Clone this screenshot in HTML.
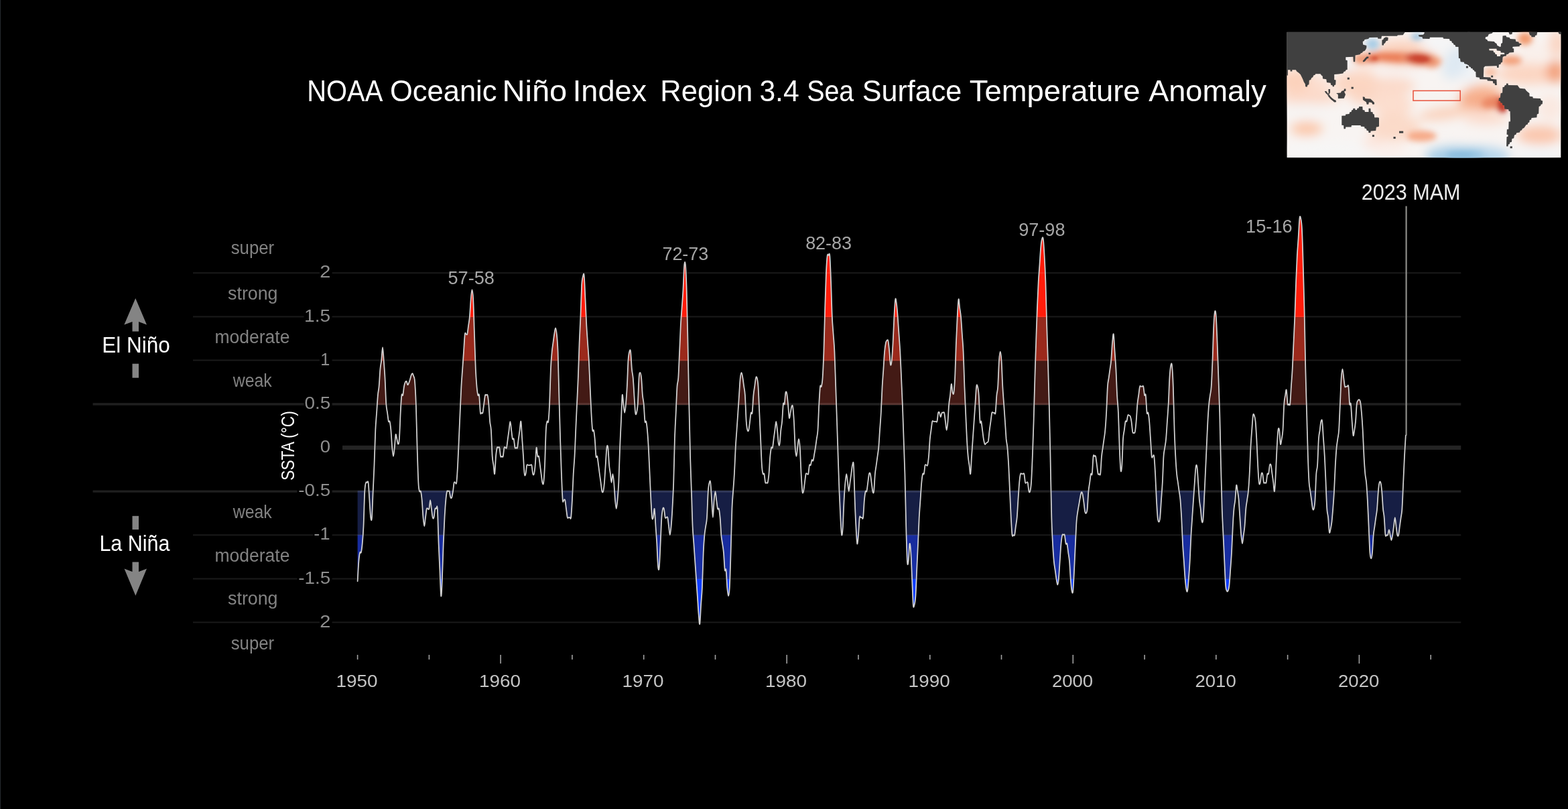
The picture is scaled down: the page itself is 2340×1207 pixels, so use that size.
<!DOCTYPE html>
<html lang="en"><head><meta charset="utf-8"><title>NOAA Oceanic Niño Index</title>
<style>html,body{margin:0;padding:0;background:#000}body{width:2340px;height:1207px}svg{display:block}text{font-family:"Liberation Sans",sans-serif}</style></head><body>
<svg width="2340" height="1207" viewBox="0 0 2340 1207">
<rect width="2340" height="1207" fill="#000"/>
<rect x="0" y="0" width="1.2" height="1207" fill="#22262a"/>
<g font-size="45" fill="#fff">
<text x="458.23" y="151.3" textLength="113.05" lengthAdjust="spacingAndGlyphs">NOAA</text>
<text x="581.94" y="151.3" textLength="159.61" lengthAdjust="spacingAndGlyphs">Oceanic</text>
<text x="749.54" y="151.3" textLength="96.73" lengthAdjust="spacingAndGlyphs">Niño</text>
<text x="854.85" y="151.3" textLength="110.14" lengthAdjust="spacingAndGlyphs">Index</text>
<text x="985.33" y="151.3" textLength="137.90" lengthAdjust="spacingAndGlyphs">Region</text>
<text x="1133.38" y="151.3" textLength="59.27" lengthAdjust="spacingAndGlyphs">3.4</text>
<text x="1204.21" y="151.3" textLength="69.99" lengthAdjust="spacingAndGlyphs">Sea</text>
<text x="1286.85" y="151.3" textLength="148.37" lengthAdjust="spacingAndGlyphs">Surface</text>
<text x="1446.88" y="151.3" textLength="254.74" lengthAdjust="spacingAndGlyphs">Temperature</text>
<text x="1714.21" y="151.3" textLength="175.48" lengthAdjust="spacingAndGlyphs">Anomaly</text>
</g>
<text x="477.34" y="414.4" font-size="25.3" fill="#8e8e8e" textLength="16.11" lengthAdjust="spacingAndGlyphs">2</text>
<text x="454.06" y="479.5" font-size="25.3" fill="#8e8e8e" textLength="39.13" lengthAdjust="spacingAndGlyphs">1.5</text>
<text x="478.37" y="544.7" font-size="25.3" fill="#8e8e8e" textLength="14.06" lengthAdjust="spacingAndGlyphs">1</text>
<text x="454.41" y="609.9" font-size="25.3" fill="#8e8e8e" textLength="38.76" lengthAdjust="spacingAndGlyphs">0.5</text>
<text x="477.72" y="675" font-size="25.3" fill="#8e8e8e" textLength="15.36" lengthAdjust="spacingAndGlyphs">0</text>
<text x="445.26" y="740.1" font-size="25.3" fill="#8e8e8e" textLength="47.90" lengthAdjust="spacingAndGlyphs">-0.5</text>
<text x="468.39" y="805.3" font-size="25.3" fill="#8e8e8e" textLength="24.13" lengthAdjust="spacingAndGlyphs">-1</text>
<text x="445.26" y="870.5" font-size="25.3" fill="#8e8e8e" textLength="47.90" lengthAdjust="spacingAndGlyphs">-1.5</text>
<text x="477.34" y="935.6" font-size="25.3" fill="#8e8e8e" textLength="16.11" lengthAdjust="spacingAndGlyphs">2</text>
<text transform="translate(438.8,715.8) rotate(-90)" x="-1.04" y="0" font-size="27.4" fill="#fff" textLength="103.75" lengthAdjust="spacingAndGlyphs">SSTA (°C)</text>
<text x="344.68" y="379" font-size="27" fill="#828282" textLength="64.55" lengthAdjust="spacingAndGlyphs">super</text>
<text x="340.05" y="447" font-size="27" fill="#828282" textLength="74.47" lengthAdjust="spacingAndGlyphs">strong</text>
<text x="320.54" y="512" font-size="27" fill="#828282" textLength="111.83" lengthAdjust="spacingAndGlyphs">moderate</text>
<text x="347.84" y="577.2" font-size="27" fill="#828282" textLength="57.93" lengthAdjust="spacingAndGlyphs">weak</text>
<text x="347.84" y="772.6" font-size="27" fill="#828282" textLength="57.93" lengthAdjust="spacingAndGlyphs">weak</text>
<text x="320.54" y="837.8" font-size="27" fill="#828282" textLength="111.83" lengthAdjust="spacingAndGlyphs">moderate</text>
<text x="340.05" y="902.4" font-size="27" fill="#828282" textLength="74.47" lengthAdjust="spacingAndGlyphs">strong</text>
<text x="344.68" y="968.9" font-size="27" fill="#828282" textLength="64.55" lengthAdjust="spacingAndGlyphs">super</text>
<text x="152.32" y="526.2" font-size="32.4" fill="#fff" textLength="101.51" lengthAdjust="spacingAndGlyphs">El Niño</text>
<text x="148.40" y="821.8" font-size="32.4" fill="#fff" textLength="105.00" lengthAdjust="spacingAndGlyphs">La Niña</text>
<path d="M202.2,445 L219,484.5 L207,480 L207,494.5 L197.5,494.5 L197.5,480 L185.3,484.5 Z" fill="#848484"/>
<rect x="197.5" y="542.7" width="9.5" height="21" fill="#848484"/>
<rect x="197.5" y="769.8" width="9.5" height="20.3" fill="#848484"/>
<path d="M202.3,888.8 L219,848.5 L207,853 L207,838.5 L197.5,838.5 L197.5,853 L185.5,848.5 Z" fill="#848484"/>
<defs><linearGradient id="gr" x1="0" y1="0" x2="0" y2="1"><stop offset="0" stop-color="#942a1d"/><stop offset="1" stop-color="#9c291b"/></linearGradient><linearGradient id="gb" x1="0" y1="0" x2="0" y2="1"><stop offset="0" stop-color="#172b9c"/><stop offset="1" stop-color="#1930a6"/></linearGradient></defs>
<defs><clipPath id="hi"><path d="M533.6,867.3C533.9,862.3 534.8,844.5 535.4,837.3C536,830.1 536.6,826.4 537.2,824.3C537.8,822.1 538.3,826.4 538.9,824.3C539.5,822.1 540.1,817.7 540.7,811.2C541.3,804.7 541.9,798.2 542.5,785.2C543.1,772.1 543.7,743.9 544.3,733C544.9,722.2 545.5,722.2 546.1,720C546.6,717.8 547.2,720 547.8,720C548.4,720 549,715.7 549.6,720C550.2,724.4 550.8,737.4 551.4,746.1C552,754.8 552.6,767.8 553.2,772.1C553.8,776.5 554.4,778.7 555,772.1C555.5,765.6 556.1,746.1 556.7,733C557.3,720 557.9,709.2 558.5,694C559.1,678.8 559.7,654.9 560.3,641.8C560.9,628.8 561.5,624.5 562.1,615.8C562.7,607.1 563.3,596.2 563.9,589.7C564.4,583.2 565,583.2 565.6,576.7C566.2,570.2 566.8,557.1 567.4,550.6C568,544.1 568.6,543 569.2,537.6C569.8,532.2 570.4,518.1 571,518.1C571.6,518.1 572.2,530 572.7,537.6C573.3,545.2 573.9,552.8 574.5,563.7C575.1,574.5 575.7,594.1 576.3,602.8C576.9,611.4 577.5,611.4 578.1,615.8C578.7,620.1 579.3,626.6 579.9,628.8C580.5,631 581.1,626.6 581.6,628.8C582.2,631 582.8,635.3 583.4,641.8C584,648.4 584.6,661.4 585.2,667.9C585.8,674.4 586.4,680.9 587,680.9C587.6,680.9 588.2,673.3 588.8,667.9C589.4,662.5 590,650.5 590.5,648.4C591.1,646.2 591.7,652.5 592.3,654.9C592.9,657.3 593.5,662.7 594.1,662.7C594.7,662.7 595.3,662.7 595.9,654.9C596.5,647.1 597.1,626.6 597.7,615.8C598.3,604.9 598.8,594.1 599.4,589.7C600,585.4 600.6,591.9 601.2,589.7C601.8,587.5 602.4,579.9 603,576.7C603.6,573.4 604.2,571.5 604.8,570.2C605.4,568.9 606,568.2 606.6,568.9C607.2,569.5 607.7,573.6 608.3,574.1C608.9,574.5 609.5,572.8 610.1,571.5C610.7,570.2 611.3,568.2 611.9,566.3C612.5,564.3 613.1,561.3 613.7,559.8C614.3,558.2 614.9,556.9 615.5,557.1C616.1,557.4 616.6,559.1 617.2,561.1C617.8,563 618.4,561.9 619,568.9C619.6,575.8 620.2,586.2 620.8,602.8C621.4,619.3 622,648.4 622.6,667.9C623.2,687.4 623.8,709.2 624.4,720C624.9,730.9 625.5,730.9 626.1,733C626.7,735.2 627.3,730.9 627.9,733C628.5,735.2 629.1,739.6 629.7,746.1C630.3,752.6 630.9,765.6 631.5,772.1C632.1,778.7 632.7,785.2 633.3,785.2C633.8,785.2 634.4,776.5 635,772.1C635.6,767.8 636.2,761.3 636.8,759.1C637.4,756.9 638,759.1 638.6,759.1C639.2,759.1 639.8,761.3 640.4,759.1C641,756.9 641.6,746.1 642.1,746.1C642.7,746.1 643.3,754.8 643.9,759.1C644.5,763.5 645.1,770 645.7,772.1C646.3,774.3 646.9,774.3 647.5,772.1C648.1,770 648.7,761.3 649.3,759.1C649.9,756.9 650.5,759.1 651,759.1C651.6,759.1 652.2,750.4 652.8,759.1C653.4,767.8 654,796 654.6,811.2C655.2,826.4 655.8,837.3 656.4,850.3C657,863.3 657.6,887.2 658.2,889.4C658.8,891.6 659.4,876.4 659.9,863.4C660.5,850.3 661.1,826.4 661.7,811.2C662.3,796 662.9,783 663.5,772.1C664.1,761.3 664.7,752.6 665.3,746.1C665.9,739.6 666.5,735.2 667.1,733C667.7,730.9 668.2,733 668.8,733C669.4,733 670,731.5 670.6,733C671.2,734.6 671.8,740.7 672.4,742.2C673,743.7 673.6,743.7 674.2,742.2C674.8,740.7 675.4,736.7 676,733C676.6,729.4 677.1,722.2 677.7,720C678.3,717.8 678.9,720 679.5,720C680.1,720 680.7,724.4 681.3,720C681.9,715.7 682.5,704.8 683.1,694C683.7,683.1 684.3,667.9 684.9,654.9C685.5,641.8 686,628.8 686.6,615.8C687.2,602.8 687.8,587.5 688.4,576.7C689,565.8 689.6,559.3 690.2,550.6C690.8,541.9 691.4,533.3 692,524.6C692.6,515.9 693.2,502.9 693.8,498.5C694.3,494.2 694.9,498.5 695.5,498.5C696.1,498.5 696.7,500.7 697.3,498.5C697.9,496.3 698.5,489.8 699.1,485.5C699.7,481.1 700.3,479 700.9,472.4C701.5,465.9 702.1,453.1 702.7,446.4C703.2,439.7 703.8,432.1 704.4,432.1C705,432.1 705.6,435.3 706.2,446.4C706.8,457.5 707.4,481.1 708,498.5C708.6,515.9 709.2,537.6 709.8,550.6C710.4,563.7 711,570.2 711.5,576.7C712.1,583.2 712.7,587.5 713.3,589.7C713.9,591.9 714.5,585.4 715.1,589.7C715.7,594.1 716.3,611.4 716.9,615.8C717.5,620.1 718.1,615.8 718.7,615.8C719.3,615.8 719.9,618 720.4,615.8C721,613.6 721.6,607.1 722.2,602.8C722.8,598.4 723.4,591.9 724,589.7C724.6,587.5 725.2,589.7 725.8,589.7C726.4,589.7 727,587.5 727.6,589.7C728.2,591.9 728.8,596.2 729.3,602.8C729.9,609.3 730.5,622.3 731.1,628.8C731.7,635.3 732.3,633.2 732.9,641.8C733.5,650.5 734.1,672.2 734.7,680.9C735.3,689.6 735.9,689.6 736.5,694C737.1,698.3 737.6,709.2 738.2,707C738.8,704.8 739.4,687.4 740,680.9C740.6,674.4 741.2,670.1 741.8,667.9C742.4,665.7 743,667.9 743.6,667.9C744.2,667.9 744.8,665.7 745.4,667.9C746,670.1 746.5,678.8 747.1,680.9C747.7,683.1 748.3,680.9 748.9,680.9C749.5,680.9 750.1,683.1 750.7,680.9C751.3,678.8 751.9,670.1 752.5,667.9C753.1,665.7 753.7,667.9 754.3,667.9C754.9,667.9 755.4,670.1 756,667.9C756.6,665.7 757.2,659.2 757.8,654.9C758.4,650.5 759,646.2 759.6,641.8C760.2,637.5 760.8,628.8 761.4,628.8C762,628.8 762.6,637.5 763.2,641.8C763.7,646.2 764.3,652.7 764.9,654.9C765.5,657 766.1,652.7 766.7,654.9C767.3,657 767.9,665.7 768.5,667.9C769.1,670.1 769.7,667.9 770.3,667.9C770.9,667.9 771.5,670.1 772.1,667.9C772.6,665.7 773.2,659.2 773.8,654.9C774.4,650.5 775,646.2 775.6,641.8C776.2,637.5 776.8,626.6 777.4,628.8C778,631 778.6,646.2 779.2,654.9C779.8,663.6 780.4,672.2 781,680.9C781.5,689.6 782.1,702.6 782.7,707C783.3,711.3 783.9,709.2 784.5,707C785.1,704.8 785.7,696.1 786.3,694C786.9,691.8 787.5,694 788.1,694C788.7,694 789.3,694 789.8,694C790.4,694 791,694 791.6,694C792.2,694 792.8,691.8 793.4,694C794,696.1 794.6,704.8 795.2,707C795.8,709.2 796.4,709.2 797,707C797.6,704.8 798.2,700.5 798.7,694C799.3,687.4 799.9,670.1 800.5,667.9C801.1,665.7 801.7,678.8 802.3,680.9C802.9,683.1 803.5,678.8 804.1,680.9C804.7,683.1 805.3,689.6 805.9,694C806.5,698.3 807,702.6 807.6,707C808.2,711.3 808.8,717.8 809.4,720C810,722.2 810.6,724.4 811.2,720C811.8,715.7 812.4,707 813,694C813.6,680.9 814.2,652.7 814.8,641.8C815.4,631 815.9,631 816.5,628.8C817.1,626.6 817.7,633.2 818.3,628.8C818.9,624.5 819.5,615.8 820.1,602.8C820.7,589.7 821.3,563.7 821.9,550.6C822.5,537.6 823.1,531.1 823.7,524.6C824.3,518.1 824.8,515.9 825.4,511.5C826,507.2 826.6,502.2 827.2,498.5C827.8,494.8 828.4,489.4 829,489.4C829.6,489.4 830.2,492.6 830.8,498.5C831.4,504.4 832,509.4 832.6,524.6C833.1,539.8 833.7,568 834.3,589.7C834.9,611.4 835.5,635.3 836.1,654.9C836.7,674.4 837.3,691.8 837.9,707C838.5,722.2 839.1,739.6 839.7,746.1C840.3,752.6 840.9,746.1 841.5,746.1C842,746.1 842.6,743.9 843.2,746.1C843.8,748.3 844.4,754.8 845,759.1C845.6,763.5 846.2,770 846.8,772.1C847.4,774.3 848,772.1 848.6,772.1C849.2,772.1 849.8,772.1 850.4,772.1C850.9,772.1 851.5,776.5 852.1,772.1C852.7,767.8 853.3,756.9 853.9,746.1C854.5,735.2 855.1,717.8 855.7,707C856.3,696.1 856.9,691.8 857.5,680.9C858.1,670.1 858.7,654.9 859.2,641.8C859.8,628.8 860.4,615.8 861,602.8C861.6,589.7 862.2,578.9 862.8,563.7C863.4,548.5 864,526.7 864.6,511.5C865.2,496.3 865.8,486.8 866.4,472.4C867,458.1 867.6,435.5 868.1,425.5C868.7,415.6 869.3,414.9 869.9,412.5C870.5,410.1 871.1,405.6 871.7,411.2C872.3,416.9 872.9,434 873.5,446.4C874.1,458.8 874.7,474.6 875.3,485.5C875.9,496.3 876.5,502.9 877,511.5C877.6,520.2 878.2,526.7 878.8,537.6C879.4,548.5 880,563.7 880.6,576.7C881.2,589.7 881.8,604.9 882.4,615.8C883,626.6 883.6,637.5 884.2,641.8C884.8,646.2 885.3,639.7 885.9,641.8C886.5,644 887.1,648.4 887.7,654.9C888.3,661.4 888.9,676.6 889.5,680.9C890.1,685.3 890.7,678.8 891.3,680.9C891.9,683.1 892.5,689.6 893.1,694C893.7,698.3 894.2,702.6 894.8,707C895.4,711.3 896,715.7 896.6,720C897.2,724.4 897.8,730.9 898.4,733C899,735.2 899.6,735.2 900.2,733C900.8,730.9 901.4,726.5 902,720C902.5,713.5 903.1,702.6 903.7,694C904.3,685.3 904.9,672.2 905.5,667.9C906.1,663.6 906.7,663.6 907.3,667.9C907.9,672.2 908.5,687.4 909.1,694C909.7,700.5 910.3,702.6 910.9,707C911.4,711.3 912,720 912.6,720C913.2,720 913.8,707 914.4,707C915,707 915.6,713.5 916.2,720C916.8,726.5 917.4,739.6 918,746.1C918.6,752.6 919.2,759.1 919.8,759.1C920.3,759.1 920.9,752.6 921.5,746.1C922.1,739.6 922.7,733 923.3,720C923.9,707 924.5,683.1 925.1,667.9C925.7,652.7 926.3,641.8 926.9,628.8C927.5,615.8 928.1,594.1 928.6,589.7C929.2,585.4 929.8,598.4 930.4,602.8C931,607.1 931.6,615.8 932.2,615.8C932.8,615.8 933.4,609.3 934,602.8C934.6,596.2 935.2,587.5 935.8,576.7C936.4,565.8 937,546.3 937.5,537.6C938.1,528.9 938.7,526.7 939.3,524.6C939.9,522.4 940.5,520.2 941.1,524.6C941.7,528.9 942.3,544.1 942.9,550.6C943.5,557.1 944.1,557.1 944.7,563.7C945.3,570.2 945.9,581 946.4,589.7C947,598.4 947.6,611.4 948.2,615.8C948.8,620.1 949.4,618 950,615.8C950.6,613.6 951.2,611.4 951.8,602.8C952.4,594.1 953,571.5 953.6,563.7C954.2,555.8 954.7,555.8 955.3,555.8C955.9,555.8 956.5,558 957.1,563.7C957.7,569.3 958.3,583.2 958.9,589.7C959.5,596.2 960.1,596.2 960.7,602.8C961.3,609.3 961.9,624.5 962.5,628.8C963.1,633.2 963.6,626.6 964.2,628.8C964.8,631 965.4,635.3 966,641.8C966.6,648.4 967.2,657 967.8,667.9C968.4,678.8 969,694 969.6,707C970.2,720 970.8,735.2 971.4,746.1C972,756.9 972.5,767.8 973.1,772.1C973.7,776.5 974.3,774.3 974.9,772.1C975.5,770 976.1,756.9 976.7,759.1C977.3,761.3 977.9,776.5 978.5,785.2C979.1,793.9 979.7,801.2 980.3,811.2C980.8,821.2 981.4,839.2 982,845.1C982.6,851 983.2,852.1 983.8,846.4C984.4,840.8 985,823.6 985.6,811.2C986.2,798.9 986.8,780.8 987.4,772.1C988,763.5 988.6,761.3 989.2,759.1C989.7,756.9 990.3,756.9 990.9,759.1C991.5,761.3 992.1,770 992.7,772.1C993.3,774.3 993.9,772.1 994.5,772.1C995.1,772.1 995.7,770 996.3,772.1C996.9,774.3 997.5,780.8 998,785.2C998.6,789.5 999.2,798.2 999.8,798.2C1000.4,798.2 1001,791.7 1001.6,785.2C1002.2,778.7 1002.8,770 1003.4,759.1C1004,748.3 1004.6,737.4 1005.2,720C1005.8,702.6 1006.4,672.2 1006.9,654.9C1007.5,637.5 1008.1,628.8 1008.7,615.8C1009.3,602.8 1009.9,585.4 1010.5,576.7C1011.1,568 1011.7,572.3 1012.3,563.7C1012.9,555 1013.5,537.6 1014.1,524.6C1014.7,511.5 1015.3,496.3 1015.8,485.5C1016.4,474.6 1017,468.1 1017.6,459.4C1018.2,450.7 1018.8,444 1019.4,433.4C1020,422.7 1020.6,401.9 1021.2,395.6C1021.8,389.3 1022.4,389.3 1023,395.6C1023.6,401.9 1024.1,414 1024.7,433.4C1025.3,452.7 1025.9,483.3 1026.5,511.5C1027.1,539.8 1027.7,574.5 1028.3,602.8C1028.9,631 1029.5,659.2 1030.1,680.9C1030.7,702.6 1031.3,715.7 1031.9,733C1032.5,750.4 1033,772.1 1033.6,785.2C1034.2,798.2 1034.8,802.5 1035.4,811.2C1036,819.9 1036.6,828.6 1037.2,837.3C1037.8,846 1038.4,854.7 1039,863.4C1039.6,872 1040.2,880.7 1040.8,889.4C1041.4,898.1 1041.9,908.5 1042.5,915.5C1043.1,922.4 1043.7,933.3 1044.3,931.1C1044.9,928.9 1045.5,911.6 1046.1,902.4C1046.7,893.3 1047.3,889.4 1047.9,876.4C1048.5,863.4 1049.1,837.3 1049.7,824.3C1050.2,811.2 1050.8,804.7 1051.4,798.2C1052,791.7 1052.6,789.5 1053.2,785.2C1053.8,780.8 1054.4,780.8 1055,772.1C1055.6,763.5 1056.2,741.7 1056.8,733C1057.4,724.4 1058,722.2 1058.6,720C1059.1,717.8 1059.7,715.7 1060.3,720C1060.9,724.4 1061.5,737.4 1062.1,746.1C1062.7,754.8 1063.3,772.1 1063.9,772.1C1064.5,772.1 1065.1,752.6 1065.7,746.1C1066.3,739.6 1066.9,733 1067.5,733C1068,733 1068.6,741.7 1069.2,746.1C1069.8,750.4 1070.4,756.9 1071,759.1C1071.6,761.3 1072.2,756.9 1072.8,759.1C1073.4,761.3 1074,765.6 1074.6,772.1C1075.2,778.7 1075.8,791.7 1076.3,798.2C1076.9,804.7 1077.5,806.9 1078.1,811.2C1078.7,815.6 1079.3,817.7 1079.9,824.3C1080.5,830.8 1081.1,846 1081.7,850.3C1082.3,854.7 1082.9,846 1083.5,850.3C1084.1,854.7 1084.7,869.9 1085.2,876.4C1085.8,882.9 1086.4,889.4 1087,889.4C1087.6,889.4 1088.2,887.2 1088.8,876.4C1089.4,865.5 1090,843.8 1090.6,824.3C1091.2,804.7 1091.8,774.3 1092.4,759.1C1093,743.9 1093.5,741.7 1094.1,733C1094.7,724.4 1095.3,717.8 1095.9,707C1096.5,696.1 1097.1,678.8 1097.7,667.9C1098.3,657 1098.9,650.5 1099.5,641.8C1100.1,633.2 1100.7,624.5 1101.3,615.8C1101.9,607.1 1102.4,598.4 1103,589.7C1103.6,581 1104.2,569.3 1104.8,563.7C1105.4,558 1106,555.8 1106.6,555.8C1107.2,555.8 1107.8,560.2 1108.4,563.7C1109,567.1 1109.6,572.3 1110.2,576.7C1110.8,581 1111.3,581 1111.9,589.7C1112.5,598.4 1113.1,620.1 1113.7,628.8C1114.3,637.5 1114.9,639.7 1115.5,641.8C1116.1,644 1116.7,644 1117.3,641.8C1117.9,639.7 1118.5,633.2 1119.1,628.8C1119.6,624.5 1120.2,618 1120.8,615.8C1121.4,613.6 1122,620.1 1122.6,615.8C1123.2,611.4 1123.8,596.2 1124.4,589.7C1125,583.2 1125.6,581 1126.2,576.7C1126.8,572.3 1127.4,565.8 1128,563.7C1128.5,561.5 1129.1,561.5 1129.7,563.7C1130.3,565.8 1130.9,568 1131.5,576.7C1132.1,585.4 1132.7,602.8 1133.3,615.8C1133.9,628.8 1134.5,641.8 1135.1,654.9C1135.7,667.9 1136.3,685.3 1136.9,694C1137.4,702.6 1138,704.8 1138.6,707C1139.2,709.2 1139.8,704.8 1140.4,707C1141,709.2 1141.6,717.8 1142.2,720C1142.8,722.2 1143.4,720 1144,720C1144.6,720 1145.2,722.2 1145.7,720C1146.3,717.8 1146.9,713.5 1147.5,707C1148.1,700.5 1148.7,687.4 1149.3,680.9C1149.9,674.4 1150.5,670.1 1151.1,667.9C1151.7,665.7 1152.3,670.1 1152.9,667.9C1153.5,665.7 1154.1,659.2 1154.6,654.9C1155.2,650.5 1155.8,646.2 1156.4,641.8C1157,637.5 1157.6,628.8 1158.2,628.8C1158.8,628.8 1159.4,636.4 1160,641.8C1160.6,647.3 1161.2,657.9 1161.8,661.4C1162.4,664.9 1162.9,665.9 1163.5,662.7C1164.1,659.4 1164.7,647.5 1165.3,641.8C1165.9,636.2 1166.5,635.3 1167.1,628.8C1167.7,622.3 1168.3,607.1 1168.9,602.8C1169.5,598.4 1170.1,605.6 1170.7,602.8C1171.3,599.9 1171.8,588.4 1172.4,585.8C1173,583.2 1173.6,584.3 1174.2,587.1C1174.8,589.9 1175.4,596.7 1176,602.8C1176.6,608.8 1177.2,621.4 1177.8,623.6C1178.4,625.8 1179,618.6 1179.6,615.8C1180.2,613 1180.7,608.2 1181.3,606.7C1181.9,605.1 1182.5,603 1183.1,606.7C1183.7,610.4 1184.3,618.6 1184.9,628.8C1185.5,639 1186.1,659.2 1186.7,667.9C1187.3,676.6 1187.9,680.9 1188.5,680.9C1189,680.9 1189.6,672.2 1190.2,667.9C1190.8,663.6 1191.4,654.9 1192,654.9C1192.6,654.9 1193.2,659.2 1193.8,667.9C1194.4,676.6 1195,696.1 1195.6,707C1196.2,717.8 1196.8,728.7 1197.4,733C1197.9,737.4 1198.5,735.2 1199.1,733C1199.7,730.9 1200.3,724.4 1200.9,720C1201.5,715.7 1202.1,709.2 1202.7,707C1203.3,704.8 1203.9,707 1204.5,707C1205.1,707 1205.7,709.2 1206.3,707C1206.8,704.8 1207.4,696.1 1208,694C1208.6,691.8 1209.2,695.3 1209.8,694C1210.4,692.7 1211,687.2 1211.6,686.1C1212.2,685.1 1212.8,688.7 1213.4,687.4C1214,686.1 1214.6,681.6 1215.1,678.3C1215.7,675.1 1216.3,671.8 1216.9,667.9C1217.5,664 1218.1,659.2 1218.7,654.9C1219.3,650.5 1219.9,650.5 1220.5,641.8C1221.1,633.2 1221.7,613.6 1222.3,602.8C1222.9,591.9 1223.5,581 1224,576.7C1224.6,572.3 1225.2,578.9 1225.8,576.7C1226.4,574.5 1227,572.3 1227.6,563.7C1228.2,555 1228.8,541.9 1229.4,524.6C1230,507.2 1230.6,479 1231.2,459.4C1231.8,439.9 1232.4,420.3 1232.9,407.3C1233.5,394.3 1234.1,385.6 1234.7,381.2C1235.3,376.9 1235.9,381.2 1236.5,381.2C1237.1,381.2 1237.7,374.7 1238.3,381.2C1238.9,387.8 1239.5,405.1 1240.1,420.3C1240.7,435.5 1241.2,459.4 1241.8,472.4C1242.4,485.5 1243,489.8 1243.6,498.5C1244.2,507.2 1244.8,511.5 1245.4,524.6C1246,537.6 1246.6,559.3 1247.2,576.7C1247.8,594.1 1248.4,611.4 1249,628.8C1249.6,646.2 1250.1,663.6 1250.7,680.9C1251.3,698.3 1251.9,717.8 1252.5,733C1253.1,748.3 1253.7,761.3 1254.3,772.1C1254.9,783 1255.5,796 1256.1,798.2C1256.7,800.4 1257.3,793.9 1257.9,785.2C1258.4,776.5 1259,756.9 1259.6,746.1C1260.2,735.2 1260.8,726.5 1261.4,720C1262,713.5 1262.6,707 1263.2,707C1263.8,707 1264.4,715.7 1265,720C1265.6,724.4 1266.2,733 1266.8,733C1267.3,733 1267.9,724.4 1268.5,720C1269.1,715.7 1269.7,711.3 1270.3,707C1270.9,702.6 1271.5,696.1 1272.1,694C1272.7,691.8 1273.3,685.3 1273.9,694C1274.5,702.6 1275.1,730.9 1275.7,746.1C1276.2,761.3 1276.8,774.3 1277.4,785.2C1278,796 1278.6,809.1 1279.2,811.2C1279.8,813.4 1280.4,804.7 1281,798.2C1281.6,791.7 1282.2,776.5 1282.8,772.1C1283.4,767.8 1284,772.1 1284.5,772.1C1285.1,772.1 1285.7,772.1 1286.3,772.1C1286.9,772.1 1287.5,776.5 1288.1,772.1C1288.7,767.8 1289.3,752.6 1289.9,746.1C1290.5,739.6 1291.1,735.2 1291.7,733C1292.3,730.9 1292.9,735.2 1293.4,733C1294,730.9 1294.6,724.4 1295.2,720C1295.8,715.7 1296.4,709.2 1297,707C1297.6,704.8 1298.2,704.8 1298.8,707C1299.4,709.2 1300,715.7 1300.6,720C1301.2,724.4 1301.8,730.9 1302.3,733C1302.9,735.2 1303.5,737.4 1304.1,733C1304.7,728.7 1305.3,713.5 1305.9,707C1306.5,700.5 1307.1,698.3 1307.7,694C1308.3,689.6 1308.9,685.3 1309.5,680.9C1310.1,676.6 1310.6,674.4 1311.2,667.9C1311.8,661.4 1312.4,650.5 1313,641.8C1313.6,633.2 1314.2,626.6 1314.8,615.8C1315.4,604.9 1316,587.5 1316.6,576.7C1317.2,565.8 1317.8,559.3 1318.4,550.6C1319,541.9 1319.5,531.1 1320.1,524.6C1320.7,518.1 1321.3,514.4 1321.9,511.5C1322.5,508.7 1323.1,508.1 1323.7,507.6C1324.3,507.2 1324.9,506.1 1325.5,508.9C1326.1,511.8 1326.7,518.7 1327.3,524.6C1327.9,530.4 1328.4,541.9 1329,544.1C1329.6,546.3 1330.2,543 1330.8,537.6C1331.4,532.2 1332,522.4 1332.6,511.5C1333.2,500.7 1333.8,483.3 1334.4,472.4C1335,461.6 1335.6,449.6 1336.2,446.4C1336.7,443.1 1337.3,448.6 1337.9,452.9C1338.5,457.2 1339.1,464.8 1339.7,472.4C1340.3,480.1 1340.9,489.8 1341.5,498.5C1342.1,507.2 1342.7,513.7 1343.3,524.6C1343.9,535.4 1344.5,550.6 1345.1,563.7C1345.6,576.7 1346.2,587.5 1346.8,602.8C1347.4,618 1348,637.5 1348.6,654.9C1349.2,672.2 1349.8,685.3 1350.4,707C1351,728.7 1351.6,763.5 1352.2,785.2C1352.8,806.9 1353.4,828.6 1353.9,837.3C1354.5,846 1355.1,841.6 1355.7,837.3C1356.3,832.9 1356.9,813.4 1357.5,811.2C1358.1,809.1 1358.7,815.6 1359.3,824.3C1359.9,832.9 1360.5,850.3 1361.1,863.4C1361.7,876.4 1362.3,895.9 1362.8,902.4C1363.4,909 1364,904.6 1364.6,902.4C1365.2,900.3 1365.8,898.1 1366.4,889.4C1367,880.7 1367.6,863.3 1368.2,850.3C1368.8,837.3 1369.4,824.3 1370,811.2C1370.6,798.2 1371.2,783 1371.7,772.1C1372.3,761.3 1372.9,754.8 1373.5,746.1C1374.1,737.4 1374.7,726.5 1375.3,720C1375.9,713.5 1376.5,709.2 1377.1,707C1377.7,704.8 1378.3,709.2 1378.9,707C1379.5,704.8 1380,696.1 1380.6,694C1381.2,691.8 1381.8,694 1382.4,694C1383,694 1383.6,696.1 1384.2,694C1384.8,691.8 1385.4,687.4 1386,680.9C1386.6,674.4 1387.2,661.4 1387.8,654.9C1388.4,648.4 1388.9,646.2 1389.5,641.8C1390.1,637.5 1390.7,631 1391.3,628.8C1391.9,626.6 1392.5,628.8 1393.1,628.8C1393.7,628.8 1394.3,628.8 1394.9,628.8C1395.5,628.8 1396.1,628.8 1396.7,628.8C1397.3,628.8 1397.8,631 1398.4,628.8C1399,626.6 1399.6,618 1400.2,615.8C1400.8,613.6 1401.4,614.7 1402,615.8C1402.6,616.9 1403.2,622.3 1403.8,622.3C1404.4,622.3 1405,616.9 1405.6,615.8C1406.1,614.7 1406.7,615.8 1407.3,615.8C1407.9,615.8 1408.5,613.6 1409.1,615.8C1409.7,618 1410.3,624.5 1410.9,628.8C1411.5,633.2 1412.1,641.8 1412.7,641.8C1413.3,641.8 1413.9,635.3 1414.5,628.8C1415,622.3 1415.6,609.3 1416.2,602.8C1416.8,596.2 1417.4,594.7 1418,589.7C1418.6,584.7 1419.2,573.4 1419.8,572.8C1420.4,572.1 1421,583.6 1421.6,585.8C1422.2,588 1422.8,589.5 1423.4,585.8C1423.9,582.1 1424.5,576 1425.1,563.7C1425.7,551.3 1426.3,526.7 1426.9,511.5C1427.5,496.3 1428.1,483.3 1428.7,472.4C1429.3,461.6 1429.9,448.6 1430.5,446.4C1431.1,444.2 1431.7,455.1 1432.2,459.4C1432.8,463.8 1433.4,465.9 1434,472.4C1434.6,479 1435.2,489.8 1435.8,498.5C1436.4,507.2 1437,511.5 1437.6,524.6C1438.2,537.6 1438.8,561.5 1439.4,576.7C1440,591.9 1440.6,602.8 1441.1,615.8C1441.7,628.8 1442.3,644 1442.9,654.9C1443.5,665.7 1444.1,674.4 1444.7,680.9C1445.3,687.4 1445.9,689.6 1446.5,694C1447.1,698.3 1447.7,709.2 1448.3,707C1448.9,704.8 1449.4,689.6 1450,680.9C1450.6,672.2 1451.2,663.6 1451.8,654.9C1452.4,646.2 1453,637.5 1453.6,628.8C1454.2,620.1 1454.8,611.4 1455.4,602.8C1456,594.1 1456.6,581 1457.2,576.7C1457.8,572.3 1458.3,574.5 1458.9,576.7C1459.5,578.9 1460.1,581 1460.7,589.7C1461.3,598.4 1461.9,622.3 1462.5,628.8C1463.1,635.3 1463.7,626.6 1464.3,628.8C1464.9,631 1465.5,637.5 1466.1,641.8C1466.7,646.2 1467.2,651.4 1467.8,654.9C1468.4,658.3 1469,661.6 1469.6,662.7C1470.2,663.8 1470.8,661.8 1471.4,661.4C1472,661 1472.6,660.7 1473.2,660.1C1473.8,659.4 1474.4,660.5 1475,657.5C1475.5,654.4 1476.1,646.6 1476.7,641.8C1477.3,637.1 1477.9,633.2 1478.5,628.8C1479.1,624.5 1479.7,618 1480.3,615.8C1480.9,613.6 1481.5,615.8 1482.1,615.8C1482.7,615.8 1483.3,615.8 1483.9,615.8C1484.4,615.8 1485,620.1 1485.6,615.8C1486.2,611.4 1486.8,596.2 1487.4,589.7C1488,583.2 1488.6,585.4 1489.2,576.7C1489.8,568 1490.4,546.3 1491,537.6C1491.6,528.9 1492.2,524.6 1492.8,524.6C1493.3,524.6 1493.9,528.9 1494.5,537.6C1495.1,546.3 1495.7,565.8 1496.3,576.7C1496.9,587.5 1497.5,594.1 1498.1,602.8C1498.7,611.4 1499.3,620.1 1499.9,628.8C1500.5,637.5 1501.1,648.4 1501.6,654.9C1502.2,661.4 1502.8,661.4 1503.4,667.9C1504,674.4 1504.6,683.1 1505.2,694C1505.8,704.8 1506.4,720 1507,733C1507.6,746.1 1508.2,761.3 1508.8,772.1C1509.4,783 1510,793.9 1510.5,798.2C1511.1,802.5 1511.7,798.2 1512.3,798.2C1512.9,798.2 1513.5,800.4 1514.1,798.2C1514.7,796 1515.3,789.5 1515.9,785.2C1516.5,780.8 1517.1,778.7 1517.7,772.1C1518.3,765.6 1518.8,754.8 1519.4,746.1C1520,737.4 1520.6,726.5 1521.2,720C1521.8,713.5 1522.4,709.2 1523,707C1523.6,704.8 1524.2,707 1524.8,707C1525.4,707 1526,707 1526.6,707C1527.2,707 1527.7,704.8 1528.3,707C1528.9,709.2 1529.5,717.8 1530.1,720C1530.7,722.2 1531.3,720 1531.9,720C1532.5,720 1533.1,717.8 1533.7,720C1534.3,722.2 1534.9,730.9 1535.5,733C1536.1,735.2 1536.6,735.2 1537.2,733C1537.8,730.9 1538.4,728.7 1539,720C1539.6,711.3 1540.2,696.1 1540.8,680.9C1541.4,665.7 1542,648.4 1542.6,628.8C1543.2,609.3 1543.8,583.2 1544.4,563.7C1544.9,544.1 1545.5,528.9 1546.1,511.5C1546.7,494.2 1547.3,474.6 1547.9,459.4C1548.5,444.2 1549.1,431.2 1549.7,420.3C1550.3,409.5 1550.9,403 1551.5,394.3C1552.1,385.6 1552.7,374.5 1553.3,368.2C1553.8,361.9 1554.4,358.4 1555,356.5C1555.6,354.5 1556.2,352.4 1556.8,356.5C1557.4,360.6 1558,370.6 1558.6,381.2C1559.2,391.9 1559.8,403 1560.4,420.3C1561,437.7 1561.6,465.9 1562.2,485.5C1562.7,505 1563.3,518.1 1563.9,537.6C1564.5,557.1 1565.1,578.9 1565.7,602.8C1566.3,626.6 1566.9,652.7 1567.5,680.9C1568.1,709.2 1568.7,750.4 1569.3,772.1C1569.9,793.9 1570.5,800.4 1571,811.2C1571.6,822.1 1572.2,830.8 1572.8,837.3C1573.4,843.8 1574,846 1574.6,850.3C1575.2,854.7 1575.8,859.7 1576.4,863.4C1577,867 1577.6,872.5 1578.2,872.5C1578.8,872.5 1579.4,869.2 1579.9,863.4C1580.5,857.5 1581.1,846 1581.7,837.3C1582.3,828.6 1582.9,817.7 1583.5,811.2C1584.1,804.7 1584.7,800.4 1585.3,798.2C1585.9,796 1586.5,798.2 1587.1,798.2C1587.7,798.2 1588.3,796 1588.8,798.2C1589.4,800.4 1590,809.1 1590.6,811.2C1591.2,813.4 1591.8,809.1 1592.4,811.2C1593,813.4 1593.6,819.9 1594.2,824.3C1594.8,828.6 1595.4,830.8 1596,837.3C1596.6,843.8 1597.1,856 1597.7,863.4C1598.3,870.7 1598.9,878.6 1599.5,881.6C1600.1,884.6 1600.7,886.8 1601.3,881.6C1601.9,876.4 1602.5,862 1603.1,850.3C1603.7,838.6 1604.3,823.4 1604.9,811.2C1605.5,799.1 1606,785.4 1606.6,777.4C1607.2,769.3 1607.8,767.1 1608.4,763C1609,758.9 1609.6,756.1 1610.2,752.6C1610.8,749.1 1611.4,745.2 1612,742.2C1612.6,739.1 1613.2,735.2 1613.8,734.4C1614.3,733.5 1614.9,734.6 1615.5,737C1616.1,739.3 1616.7,744.3 1617.3,748.7C1617.9,753 1618.5,760.2 1619.1,763C1619.7,765.8 1620.3,766.3 1620.9,765.6C1621.5,765 1622.1,764.5 1622.7,759.1C1623.2,753.7 1623.8,739.6 1624.4,733C1625,726.5 1625.6,724.4 1626.2,720C1626.8,715.7 1627.4,709.2 1628,707C1628.6,704.8 1629.2,711.3 1629.8,707C1630.4,702.6 1631,685.3 1631.6,680.9C1632.1,676.6 1632.7,680.9 1633.3,680.9C1633.9,680.9 1634.5,678.8 1635.1,680.9C1635.7,683.1 1636.3,689.6 1636.9,694C1637.5,698.3 1638.1,704.8 1638.7,707C1639.3,709.2 1639.9,707 1640.4,707C1641,707 1641.6,711.3 1642.2,707C1642.8,702.6 1643.4,687.4 1644,680.9C1644.6,674.4 1645.2,672.2 1645.8,667.9C1646.4,663.6 1647,659.2 1647.6,654.9C1648.2,650.5 1648.8,648.4 1649.3,641.8C1649.9,635.3 1650.5,626.6 1651.1,615.8C1651.7,604.9 1652.3,585.4 1652.9,576.7C1653.5,568 1654.1,568 1654.7,563.7C1655.3,559.3 1655.9,555 1656.5,550.6C1657.1,546.3 1657.7,544.1 1658.2,537.6C1658.8,531.1 1659.4,518.1 1660,511.5C1660.6,505 1661.2,496.3 1661.8,498.5C1662.4,500.7 1663,515.9 1663.6,524.6C1664.2,533.3 1664.8,539.8 1665.4,550.6C1666,561.5 1666.5,578.9 1667.1,589.7C1667.7,600.6 1668.3,602.8 1668.9,615.8C1669.5,628.8 1670.1,653.6 1670.7,667.9C1671.3,682.2 1671.9,697.4 1672.5,701.8C1673.1,706.1 1673.7,701.8 1674.3,694C1674.9,686.1 1675.4,663.6 1676,654.9C1676.6,646.2 1677.2,646.2 1677.8,641.8C1678.4,637.5 1679,631 1679.6,628.8C1680.2,626.6 1680.8,630.3 1681.4,628.8C1682,627.3 1682.6,621.2 1683.2,619.7C1683.8,618.2 1684.3,619.5 1684.9,619.7C1685.5,619.9 1686.1,619.5 1686.7,621C1687.3,622.5 1687.9,624.9 1688.5,628.8C1689.1,632.7 1689.7,641.6 1690.3,644.4C1690.9,647.3 1691.5,645.7 1692.1,645.7C1692.6,645.7 1693.2,647.3 1693.8,644.4C1694.4,641.6 1695,635.8 1695.6,628.8C1696.2,621.9 1696.8,609.3 1697.4,602.8C1698,596.2 1698.6,594.1 1699.2,589.7C1699.8,585.4 1700.4,578.9 1701,576.7C1701.5,574.5 1702.1,576.7 1702.7,576.7C1703.3,576.7 1703.9,576.7 1704.5,576.7C1705.1,576.7 1705.7,574.5 1706.3,576.7C1706.9,578.9 1707.5,587.5 1708.1,589.7C1708.7,591.9 1709.3,585.4 1709.8,589.7C1710.4,594.1 1711,611.4 1711.6,615.8C1712.2,620.1 1712.8,613.6 1713.4,615.8C1714,618 1714.6,622.3 1715.2,628.8C1715.8,635.3 1716.4,646.2 1717,654.9C1717.6,663.6 1718.2,676.6 1718.7,680.9C1719.3,685.3 1719.9,680.9 1720.5,680.9C1721.1,680.9 1721.7,676.6 1722.3,680.9C1722.9,685.3 1723.5,696.1 1724.1,707C1724.7,717.8 1725.3,735.2 1725.9,746.1C1726.5,756.9 1727.1,766.7 1727.6,772.1C1728.2,777.6 1728.8,778.7 1729.4,778.7C1730,778.7 1730.6,777.6 1731.2,772.1C1731.8,766.7 1732.4,754.8 1733,746.1C1733.6,737.4 1734.2,730.9 1734.8,720C1735.4,709.2 1735.9,689.6 1736.5,680.9C1737.1,672.2 1737.7,672.2 1738.3,667.9C1738.9,663.6 1739.5,661.4 1740.1,654.9C1740.7,648.4 1741.3,637.5 1741.9,628.8C1742.5,620.1 1743.1,613.6 1743.7,602.8C1744.3,591.9 1744.8,573.2 1745.4,563.7C1746,554.1 1746.6,548.5 1747.2,545.4C1747.8,542.4 1748.4,540.2 1749,545.4C1749.6,550.6 1750.2,560.6 1750.8,576.7C1751.4,592.8 1752,624.5 1752.6,641.8C1753.2,659.2 1753.7,670.1 1754.3,680.9C1754.9,691.8 1755.5,700.5 1756.1,707C1756.7,713.5 1757.3,715.7 1757.9,720C1758.5,724.4 1759.1,728.7 1759.7,733C1760.3,737.4 1760.9,739.6 1761.5,746.1C1762,752.6 1762.6,761.3 1763.2,772.1C1763.8,783 1764.4,800.4 1765,811.2C1765.6,822.1 1766.2,828.6 1766.8,837.3C1767.4,846 1768,856.4 1768.6,863.4C1769.2,870.3 1769.8,875.9 1770.4,879C1770.9,882 1771.5,884.2 1772.1,881.6C1772.7,879 1773.3,870.7 1773.9,863.4C1774.5,856 1775.1,848.1 1775.7,837.3C1776.3,826.4 1776.9,809.1 1777.5,798.2C1778.1,787.3 1778.7,780.8 1779.2,772.1C1779.8,763.5 1780.4,754.8 1781,746.1C1781.6,737.4 1782.2,728.3 1782.8,720C1783.4,711.8 1784,700.5 1784.6,696.6C1785.2,692.7 1785.8,692.7 1786.4,696.6C1787,700.5 1787.6,711.8 1788.1,720C1788.7,728.3 1789.3,739.6 1789.9,746.1C1790.5,752.6 1791.1,753.9 1791.7,759.1C1792.3,764.3 1792.9,774.5 1793.5,777.4C1794.1,780.2 1794.7,781.3 1795.3,776C1795.9,770.8 1796.5,757.6 1797,746.1C1797.6,734.6 1798.2,720 1798.8,707C1799.4,694 1800,680.9 1800.6,667.9C1801.2,654.9 1801.8,639.7 1802.4,628.8C1803,618 1803.6,609.3 1804.2,602.8C1804.8,596.2 1805.3,594.1 1805.9,589.7C1806.5,585.4 1807.1,585.4 1807.7,576.7C1808.3,568 1808.9,552.8 1809.5,537.6C1810.1,522.4 1810.7,497.6 1811.3,485.5C1811.9,473.3 1812.5,466.8 1813.1,464.6C1813.7,462.5 1814.2,464.6 1814.8,472.4C1815.4,480.3 1816,496.3 1816.6,511.5C1817.2,526.7 1817.8,546.3 1818.4,563.7C1819,581 1819.6,594.1 1820.2,615.8C1820.8,637.5 1821.4,670.1 1822,694C1822.6,717.8 1823.1,741.7 1823.7,759.1C1824.3,776.5 1824.9,785.2 1825.5,798.2C1826.1,811.2 1826.7,824.7 1827.3,837.3C1827.9,849.9 1828.5,866.4 1829.1,873.8C1829.7,881.2 1830.3,880.3 1830.9,881.6C1831.4,882.9 1832,882.9 1832.6,881.6C1833.2,880.3 1833.8,879 1834.4,873.8C1835,868.6 1835.6,858.6 1836.2,850.3C1836.8,842.1 1837.4,835.1 1838,824.3C1838.6,813.4 1839.2,796 1839.8,785.2C1840.3,774.3 1840.9,765.6 1841.5,759.1C1842.1,752.6 1842.7,751.9 1843.3,746.1C1843.9,740.2 1844.5,726.1 1845.1,723.9C1845.7,721.8 1846.3,729.4 1846.9,733C1847.5,736.7 1848.1,739.6 1848.7,746.1C1849.2,752.6 1849.8,763.5 1850.4,772.1C1851,780.8 1851.6,791.7 1852.2,798.2C1852.8,804.7 1853.4,811.2 1854,811.2C1854.6,811.2 1855.2,802.5 1855.8,798.2C1856.4,793.9 1857,791.7 1857.5,785.2C1858.1,778.7 1858.7,765.6 1859.3,759.1C1859.9,752.6 1860.5,750.4 1861.1,746.1C1861.7,741.7 1862.3,739.6 1862.9,733C1863.5,726.5 1864.1,717.8 1864.7,707C1865.3,696.1 1865.9,678.8 1866.4,667.9C1867,657 1867.6,649.9 1868.2,641.8C1868.8,633.8 1869.4,623.4 1870,619.7C1870.6,616 1871.2,618.2 1871.8,619.7C1872.4,621.2 1873,622.9 1873.6,628.8C1874.2,634.7 1874.7,644 1875.3,654.9C1875.9,665.7 1876.5,683.1 1877.1,694C1877.7,704.8 1878.3,715.7 1878.9,720C1879.5,724.4 1880.1,722.2 1880.7,720C1881.3,717.8 1881.9,709.2 1882.5,707C1883.1,704.8 1883.6,704.8 1884.2,707C1884.8,709.2 1885.4,717.8 1886,720C1886.6,722.2 1887.2,720 1887.8,720C1888.4,720 1889,722.2 1889.6,720C1890.2,717.8 1890.8,709.2 1891.4,707C1892,704.8 1892.5,709.2 1893.1,707C1893.7,704.8 1894.3,696.1 1894.9,694C1895.5,691.8 1896.1,691.8 1896.7,694C1897.3,696.1 1897.9,702.6 1898.5,707C1899.1,711.3 1899.7,715.7 1900.3,720C1900.8,724.4 1901.4,735.2 1902,733C1902.6,730.9 1903.2,717.8 1903.8,707C1904.4,696.1 1905,678.8 1905.6,667.9C1906.2,657 1906.8,646.2 1907.4,641.8C1908,637.5 1908.6,638.4 1909.2,641.8C1909.7,645.3 1910.3,660.5 1910.9,662.7C1911.5,664.9 1912.1,658.3 1912.7,654.9C1913.3,651.4 1913.9,650.5 1914.5,641.8C1915.1,633.2 1915.7,611.4 1916.3,602.8C1916.9,594.1 1917.5,593.2 1918.1,589.7C1918.6,586.2 1919.2,579.7 1919.8,581.9C1920.4,584.1 1921,599.3 1921.6,602.8C1922.2,606.2 1922.8,602.8 1923.4,602.8C1924,602.8 1924.6,607.1 1925.2,602.8C1925.8,598.4 1926.4,585.4 1926.9,576.7C1927.5,568 1928.1,561.5 1928.7,550.6C1929.3,539.8 1929.9,524.6 1930.5,511.5C1931.1,498.5 1931.7,487.7 1932.3,472.4C1932.9,457.2 1933.5,435.5 1934.1,420.3C1934.7,405.1 1935.3,392.1 1935.8,381.2C1936.4,370.4 1937,364.4 1937.6,355.2C1938.2,346 1938.8,330.7 1939.4,325.9C1940,321 1940.6,323.1 1941.2,325.9C1941.8,328.6 1942.4,330.7 1943,342.1C1943.6,353.6 1944.2,374.7 1944.7,394.3C1945.3,413.8 1945.9,433.4 1946.5,459.4C1947.1,485.5 1947.7,524.6 1948.3,550.6C1948.9,576.7 1949.5,594.1 1950.1,615.8C1950.7,637.5 1951.3,663.6 1951.9,680.9C1952.5,698.3 1953,711.3 1953.6,720C1954.2,728.7 1954.8,728.7 1955.4,733C1956,737.4 1956.6,741.7 1957.2,746.1C1957.8,750.4 1958.4,756.9 1959,759.1C1959.6,761.3 1960.2,761.3 1960.8,759.1C1961.4,756.9 1961.9,754.8 1962.5,746.1C1963.1,737.4 1963.7,715.7 1964.3,707C1964.9,698.3 1965.5,702.6 1966.1,694C1966.7,685.3 1967.3,663.6 1967.9,654.9C1968.5,646.2 1969.1,646.2 1969.7,641.8C1970.2,637.5 1970.8,631 1971.4,628.8C1972,626.6 1972.6,624.5 1973.2,628.8C1973.8,633.2 1974.4,646.2 1975,654.9C1975.6,663.6 1976.2,670.1 1976.8,680.9C1977.4,691.8 1978,707 1978.6,720C1979.1,733 1979.7,750.4 1980.3,759.1C1980.9,767.8 1981.5,766.3 1982.1,772.1C1982.7,778 1983.3,791.5 1983.9,794.3C1984.5,797.1 1985.1,791.7 1985.7,789.1C1986.3,786.5 1986.9,783.6 1987.5,778.7C1988,773.7 1988.6,766.7 1989.2,759.1C1989.8,751.5 1990.4,743.9 1991,733C1991.6,722.2 1992.2,704.8 1992.8,694C1993.4,683.1 1994,674.4 1994.6,667.9C1995.2,661.4 1995.8,659.2 1996.3,654.9C1996.9,650.5 1997.5,650.5 1998.1,641.8C1998.7,633.2 1999.3,615.8 1999.9,602.8C2000.5,589.7 2001.1,572.3 2001.7,563.7C2002.3,555 2002.9,550.6 2003.5,550.6C2004.1,550.6 2004.7,559.3 2005.2,563.7C2005.8,568 2006.4,574.5 2007,576.7C2007.6,578.9 2008.2,576.7 2008.8,576.7C2009.4,576.7 2010,576.7 2010.6,576.7C2011.2,576.7 2011.8,572.3 2012.4,576.7C2013,581 2013.6,598.4 2014.1,602.8C2014.7,607.1 2015.3,598.4 2015.9,602.8C2016.5,607.1 2017.1,621 2017.7,628.8C2018.3,636.6 2018.9,647.5 2019.5,649.7C2020.1,651.8 2020.7,645.3 2021.3,641.8C2021.9,638.4 2022.4,635.3 2023,628.8C2023.6,622.3 2024.2,608 2024.8,602.8C2025.4,597.5 2026,598.6 2026.6,597.5C2027.2,596.5 2027.8,595.8 2028.4,596.2C2029,596.7 2029.6,596.9 2030.2,600.1C2030.8,603.4 2031.3,608.8 2031.9,615.8C2032.5,622.7 2033.1,631 2033.7,641.8C2034.3,652.7 2034.9,670.1 2035.5,680.9C2036.1,691.8 2036.7,700.5 2037.3,707C2037.9,713.5 2038.5,713.5 2039.1,720C2039.7,726.5 2040.2,735.2 2040.8,746.1C2041.4,756.9 2042,772.1 2042.6,785.2C2043.2,798.2 2043.8,816.2 2044.4,824.3C2045,832.3 2045.6,833.4 2046.2,833.4C2046.8,833.4 2047.4,830.1 2048,824.3C2048.5,818.4 2049.1,804.7 2049.7,798.2C2050.3,791.7 2050.9,789.5 2051.5,785.2C2052.1,780.8 2052.7,776.5 2053.3,772.1C2053.9,767.8 2054.5,765.6 2055.1,759.1C2055.7,752.6 2056.3,739.6 2056.9,733C2057.4,726.5 2058,722.2 2058.6,720C2059.2,717.8 2059.8,717.8 2060.4,720C2061,722.2 2061.6,726.5 2062.2,733C2062.8,739.6 2063.4,752.6 2064,759.1C2064.6,765.6 2065.2,765.6 2065.7,772.1C2066.3,778.7 2066.9,793.9 2067.5,798.2C2068.1,802.5 2068.7,798.2 2069.3,798.2C2069.9,798.2 2070.5,799.5 2071.1,798.2C2071.7,796.9 2072.3,790.4 2072.9,790.4C2073.5,790.4 2074.1,795.6 2074.6,798.2C2075.2,800.8 2075.8,806 2076.4,806C2077,806 2077.6,801.7 2078.2,798.2C2078.8,794.7 2079.4,789.5 2080,785.2C2080.6,780.8 2081.2,772.1 2081.8,772.1C2082.4,772.1 2083,780.8 2083.5,785.2C2084.1,789.5 2084.7,796 2085.3,798.2C2085.9,800.4 2086.5,800.4 2087.1,798.2C2087.7,796 2088.3,789.5 2088.9,785.2C2089.5,780.8 2090.1,776.5 2090.7,772.1C2091.3,767.8 2091.8,767.8 2092.4,759.1C2093,750.4 2093.6,733 2094.2,720C2094.8,707 2095.4,692.7 2096,680.9C2096.6,669.2 2097.5,654.9 2097.8,649.7L2097.8,604 L533.6,604 Z"/></clipPath><clipPath id="lo"><path d="M533.6,867.3C533.9,862.3 534.8,844.5 535.4,837.3C536,830.1 536.6,826.4 537.2,824.3C537.8,822.1 538.3,826.4 538.9,824.3C539.5,822.1 540.1,817.7 540.7,811.2C541.3,804.7 541.9,798.2 542.5,785.2C543.1,772.1 543.7,743.9 544.3,733C544.9,722.2 545.5,722.2 546.1,720C546.6,717.8 547.2,720 547.8,720C548.4,720 549,715.7 549.6,720C550.2,724.4 550.8,737.4 551.4,746.1C552,754.8 552.6,767.8 553.2,772.1C553.8,776.5 554.4,778.7 555,772.1C555.5,765.6 556.1,746.1 556.7,733C557.3,720 557.9,709.2 558.5,694C559.1,678.8 559.7,654.9 560.3,641.8C560.9,628.8 561.5,624.5 562.1,615.8C562.7,607.1 563.3,596.2 563.9,589.7C564.4,583.2 565,583.2 565.6,576.7C566.2,570.2 566.8,557.1 567.4,550.6C568,544.1 568.6,543 569.2,537.6C569.8,532.2 570.4,518.1 571,518.1C571.6,518.1 572.2,530 572.7,537.6C573.3,545.2 573.9,552.8 574.5,563.7C575.1,574.5 575.7,594.1 576.3,602.8C576.9,611.4 577.5,611.4 578.1,615.8C578.7,620.1 579.3,626.6 579.9,628.8C580.5,631 581.1,626.6 581.6,628.8C582.2,631 582.8,635.3 583.4,641.8C584,648.4 584.6,661.4 585.2,667.9C585.8,674.4 586.4,680.9 587,680.9C587.6,680.9 588.2,673.3 588.8,667.9C589.4,662.5 590,650.5 590.5,648.4C591.1,646.2 591.7,652.5 592.3,654.9C592.9,657.3 593.5,662.7 594.1,662.7C594.7,662.7 595.3,662.7 595.9,654.9C596.5,647.1 597.1,626.6 597.7,615.8C598.3,604.9 598.8,594.1 599.4,589.7C600,585.4 600.6,591.9 601.2,589.7C601.8,587.5 602.4,579.9 603,576.7C603.6,573.4 604.2,571.5 604.8,570.2C605.4,568.9 606,568.2 606.6,568.9C607.2,569.5 607.7,573.6 608.3,574.1C608.9,574.5 609.5,572.8 610.1,571.5C610.7,570.2 611.3,568.2 611.9,566.3C612.5,564.3 613.1,561.3 613.7,559.8C614.3,558.2 614.9,556.9 615.5,557.1C616.1,557.4 616.6,559.1 617.2,561.1C617.8,563 618.4,561.9 619,568.9C619.6,575.8 620.2,586.2 620.8,602.8C621.4,619.3 622,648.4 622.6,667.9C623.2,687.4 623.8,709.2 624.4,720C624.9,730.9 625.5,730.9 626.1,733C626.7,735.2 627.3,730.9 627.9,733C628.5,735.2 629.1,739.6 629.7,746.1C630.3,752.6 630.9,765.6 631.5,772.1C632.1,778.7 632.7,785.2 633.3,785.2C633.8,785.2 634.4,776.5 635,772.1C635.6,767.8 636.2,761.3 636.8,759.1C637.4,756.9 638,759.1 638.6,759.1C639.2,759.1 639.8,761.3 640.4,759.1C641,756.9 641.6,746.1 642.1,746.1C642.7,746.1 643.3,754.8 643.9,759.1C644.5,763.5 645.1,770 645.7,772.1C646.3,774.3 646.9,774.3 647.5,772.1C648.1,770 648.7,761.3 649.3,759.1C649.9,756.9 650.5,759.1 651,759.1C651.6,759.1 652.2,750.4 652.8,759.1C653.4,767.8 654,796 654.6,811.2C655.2,826.4 655.8,837.3 656.4,850.3C657,863.3 657.6,887.2 658.2,889.4C658.8,891.6 659.4,876.4 659.9,863.4C660.5,850.3 661.1,826.4 661.7,811.2C662.3,796 662.9,783 663.5,772.1C664.1,761.3 664.7,752.6 665.3,746.1C665.9,739.6 666.5,735.2 667.1,733C667.7,730.9 668.2,733 668.8,733C669.4,733 670,731.5 670.6,733C671.2,734.6 671.8,740.7 672.4,742.2C673,743.7 673.6,743.7 674.2,742.2C674.8,740.7 675.4,736.7 676,733C676.6,729.4 677.1,722.2 677.7,720C678.3,717.8 678.9,720 679.5,720C680.1,720 680.7,724.4 681.3,720C681.9,715.7 682.5,704.8 683.1,694C683.7,683.1 684.3,667.9 684.9,654.9C685.5,641.8 686,628.8 686.6,615.8C687.2,602.8 687.8,587.5 688.4,576.7C689,565.8 689.6,559.3 690.2,550.6C690.8,541.9 691.4,533.3 692,524.6C692.6,515.9 693.2,502.9 693.8,498.5C694.3,494.2 694.9,498.5 695.5,498.5C696.1,498.5 696.7,500.7 697.3,498.5C697.9,496.3 698.5,489.8 699.1,485.5C699.7,481.1 700.3,479 700.9,472.4C701.5,465.9 702.1,453.1 702.7,446.4C703.2,439.7 703.8,432.1 704.4,432.1C705,432.1 705.6,435.3 706.2,446.4C706.8,457.5 707.4,481.1 708,498.5C708.6,515.9 709.2,537.6 709.8,550.6C710.4,563.7 711,570.2 711.5,576.7C712.1,583.2 712.7,587.5 713.3,589.7C713.9,591.9 714.5,585.4 715.1,589.7C715.7,594.1 716.3,611.4 716.9,615.8C717.5,620.1 718.1,615.8 718.7,615.8C719.3,615.8 719.9,618 720.4,615.8C721,613.6 721.6,607.1 722.2,602.8C722.8,598.4 723.4,591.9 724,589.7C724.6,587.5 725.2,589.7 725.8,589.7C726.4,589.7 727,587.5 727.6,589.7C728.2,591.9 728.8,596.2 729.3,602.8C729.9,609.3 730.5,622.3 731.1,628.8C731.7,635.3 732.3,633.2 732.9,641.8C733.5,650.5 734.1,672.2 734.7,680.9C735.3,689.6 735.9,689.6 736.5,694C737.1,698.3 737.6,709.2 738.2,707C738.8,704.8 739.4,687.4 740,680.9C740.6,674.4 741.2,670.1 741.8,667.9C742.4,665.7 743,667.9 743.6,667.9C744.2,667.9 744.8,665.7 745.4,667.9C746,670.1 746.5,678.8 747.1,680.9C747.7,683.1 748.3,680.9 748.9,680.9C749.5,680.9 750.1,683.1 750.7,680.9C751.3,678.8 751.9,670.1 752.5,667.9C753.1,665.7 753.7,667.9 754.3,667.9C754.9,667.9 755.4,670.1 756,667.9C756.6,665.7 757.2,659.2 757.8,654.9C758.4,650.5 759,646.2 759.6,641.8C760.2,637.5 760.8,628.8 761.4,628.8C762,628.8 762.6,637.5 763.2,641.8C763.7,646.2 764.3,652.7 764.9,654.9C765.5,657 766.1,652.7 766.7,654.9C767.3,657 767.9,665.7 768.5,667.9C769.1,670.1 769.7,667.9 770.3,667.9C770.9,667.9 771.5,670.1 772.1,667.9C772.6,665.7 773.2,659.2 773.8,654.9C774.4,650.5 775,646.2 775.6,641.8C776.2,637.5 776.8,626.6 777.4,628.8C778,631 778.6,646.2 779.2,654.9C779.8,663.6 780.4,672.2 781,680.9C781.5,689.6 782.1,702.6 782.7,707C783.3,711.3 783.9,709.2 784.5,707C785.1,704.8 785.7,696.1 786.3,694C786.9,691.8 787.5,694 788.1,694C788.7,694 789.3,694 789.8,694C790.4,694 791,694 791.6,694C792.2,694 792.8,691.8 793.4,694C794,696.1 794.6,704.8 795.2,707C795.8,709.2 796.4,709.2 797,707C797.6,704.8 798.2,700.5 798.7,694C799.3,687.4 799.9,670.1 800.5,667.9C801.1,665.7 801.7,678.8 802.3,680.9C802.9,683.1 803.5,678.8 804.1,680.9C804.7,683.1 805.3,689.6 805.9,694C806.5,698.3 807,702.6 807.6,707C808.2,711.3 808.8,717.8 809.4,720C810,722.2 810.6,724.4 811.2,720C811.8,715.7 812.4,707 813,694C813.6,680.9 814.2,652.7 814.8,641.8C815.4,631 815.9,631 816.5,628.8C817.1,626.6 817.7,633.2 818.3,628.8C818.9,624.5 819.5,615.8 820.1,602.8C820.7,589.7 821.3,563.7 821.9,550.6C822.5,537.6 823.1,531.1 823.7,524.6C824.3,518.1 824.8,515.9 825.4,511.5C826,507.2 826.6,502.2 827.2,498.5C827.8,494.8 828.4,489.4 829,489.4C829.6,489.4 830.2,492.6 830.8,498.5C831.4,504.4 832,509.4 832.6,524.6C833.1,539.8 833.7,568 834.3,589.7C834.9,611.4 835.5,635.3 836.1,654.9C836.7,674.4 837.3,691.8 837.9,707C838.5,722.2 839.1,739.6 839.7,746.1C840.3,752.6 840.9,746.1 841.5,746.1C842,746.1 842.6,743.9 843.2,746.1C843.8,748.3 844.4,754.8 845,759.1C845.6,763.5 846.2,770 846.8,772.1C847.4,774.3 848,772.1 848.6,772.1C849.2,772.1 849.8,772.1 850.4,772.1C850.9,772.1 851.5,776.5 852.1,772.1C852.7,767.8 853.3,756.9 853.9,746.1C854.5,735.2 855.1,717.8 855.7,707C856.3,696.1 856.9,691.8 857.5,680.9C858.1,670.1 858.7,654.9 859.2,641.8C859.8,628.8 860.4,615.8 861,602.8C861.6,589.7 862.2,578.9 862.8,563.7C863.4,548.5 864,526.7 864.6,511.5C865.2,496.3 865.8,486.8 866.4,472.4C867,458.1 867.6,435.5 868.1,425.5C868.7,415.6 869.3,414.9 869.9,412.5C870.5,410.1 871.1,405.6 871.7,411.2C872.3,416.9 872.9,434 873.5,446.4C874.1,458.8 874.7,474.6 875.3,485.5C875.9,496.3 876.5,502.9 877,511.5C877.6,520.2 878.2,526.7 878.8,537.6C879.4,548.5 880,563.7 880.6,576.7C881.2,589.7 881.8,604.9 882.4,615.8C883,626.6 883.6,637.5 884.2,641.8C884.8,646.2 885.3,639.7 885.9,641.8C886.5,644 887.1,648.4 887.7,654.9C888.3,661.4 888.9,676.6 889.5,680.9C890.1,685.3 890.7,678.8 891.3,680.9C891.9,683.1 892.5,689.6 893.1,694C893.7,698.3 894.2,702.6 894.8,707C895.4,711.3 896,715.7 896.6,720C897.2,724.4 897.8,730.9 898.4,733C899,735.2 899.6,735.2 900.2,733C900.8,730.9 901.4,726.5 902,720C902.5,713.5 903.1,702.6 903.7,694C904.3,685.3 904.9,672.2 905.5,667.9C906.1,663.6 906.7,663.6 907.3,667.9C907.9,672.2 908.5,687.4 909.1,694C909.7,700.5 910.3,702.6 910.9,707C911.4,711.3 912,720 912.6,720C913.2,720 913.8,707 914.4,707C915,707 915.6,713.5 916.2,720C916.8,726.5 917.4,739.6 918,746.1C918.6,752.6 919.2,759.1 919.8,759.1C920.3,759.1 920.9,752.6 921.5,746.1C922.1,739.6 922.7,733 923.3,720C923.9,707 924.5,683.1 925.1,667.9C925.7,652.7 926.3,641.8 926.9,628.8C927.5,615.8 928.1,594.1 928.6,589.7C929.2,585.4 929.8,598.4 930.4,602.8C931,607.1 931.6,615.8 932.2,615.8C932.8,615.8 933.4,609.3 934,602.8C934.6,596.2 935.2,587.5 935.8,576.7C936.4,565.8 937,546.3 937.5,537.6C938.1,528.9 938.7,526.7 939.3,524.6C939.9,522.4 940.5,520.2 941.1,524.6C941.7,528.9 942.3,544.1 942.9,550.6C943.5,557.1 944.1,557.1 944.7,563.7C945.3,570.2 945.9,581 946.4,589.7C947,598.4 947.6,611.4 948.2,615.8C948.8,620.1 949.4,618 950,615.8C950.6,613.6 951.2,611.4 951.8,602.8C952.4,594.1 953,571.5 953.6,563.7C954.2,555.8 954.7,555.8 955.3,555.8C955.9,555.8 956.5,558 957.1,563.7C957.7,569.3 958.3,583.2 958.9,589.7C959.5,596.2 960.1,596.2 960.7,602.8C961.3,609.3 961.9,624.5 962.5,628.8C963.1,633.2 963.6,626.6 964.2,628.8C964.8,631 965.4,635.3 966,641.8C966.6,648.4 967.2,657 967.8,667.9C968.4,678.8 969,694 969.6,707C970.2,720 970.8,735.2 971.4,746.1C972,756.9 972.5,767.8 973.1,772.1C973.7,776.5 974.3,774.3 974.9,772.1C975.5,770 976.1,756.9 976.7,759.1C977.3,761.3 977.9,776.5 978.5,785.2C979.1,793.9 979.7,801.2 980.3,811.2C980.8,821.2 981.4,839.2 982,845.1C982.6,851 983.2,852.1 983.8,846.4C984.4,840.8 985,823.6 985.6,811.2C986.2,798.9 986.8,780.8 987.4,772.1C988,763.5 988.6,761.3 989.2,759.1C989.7,756.9 990.3,756.9 990.9,759.1C991.5,761.3 992.1,770 992.7,772.1C993.3,774.3 993.9,772.1 994.5,772.1C995.1,772.1 995.7,770 996.3,772.1C996.9,774.3 997.5,780.8 998,785.2C998.6,789.5 999.2,798.2 999.8,798.2C1000.4,798.2 1001,791.7 1001.6,785.2C1002.2,778.7 1002.8,770 1003.4,759.1C1004,748.3 1004.6,737.4 1005.2,720C1005.8,702.6 1006.4,672.2 1006.9,654.9C1007.5,637.5 1008.1,628.8 1008.7,615.8C1009.3,602.8 1009.9,585.4 1010.5,576.7C1011.1,568 1011.7,572.3 1012.3,563.7C1012.9,555 1013.5,537.6 1014.1,524.6C1014.7,511.5 1015.3,496.3 1015.8,485.5C1016.4,474.6 1017,468.1 1017.6,459.4C1018.2,450.7 1018.8,444 1019.4,433.4C1020,422.7 1020.6,401.9 1021.2,395.6C1021.8,389.3 1022.4,389.3 1023,395.6C1023.6,401.9 1024.1,414 1024.7,433.4C1025.3,452.7 1025.9,483.3 1026.5,511.5C1027.1,539.8 1027.7,574.5 1028.3,602.8C1028.9,631 1029.5,659.2 1030.1,680.9C1030.7,702.6 1031.3,715.7 1031.9,733C1032.5,750.4 1033,772.1 1033.6,785.2C1034.2,798.2 1034.8,802.5 1035.4,811.2C1036,819.9 1036.6,828.6 1037.2,837.3C1037.8,846 1038.4,854.7 1039,863.4C1039.6,872 1040.2,880.7 1040.8,889.4C1041.4,898.1 1041.9,908.5 1042.5,915.5C1043.1,922.4 1043.7,933.3 1044.3,931.1C1044.9,928.9 1045.5,911.6 1046.1,902.4C1046.7,893.3 1047.3,889.4 1047.9,876.4C1048.5,863.4 1049.1,837.3 1049.7,824.3C1050.2,811.2 1050.8,804.7 1051.4,798.2C1052,791.7 1052.6,789.5 1053.2,785.2C1053.8,780.8 1054.4,780.8 1055,772.1C1055.6,763.5 1056.2,741.7 1056.8,733C1057.4,724.4 1058,722.2 1058.6,720C1059.1,717.8 1059.7,715.7 1060.3,720C1060.9,724.4 1061.5,737.4 1062.1,746.1C1062.7,754.8 1063.3,772.1 1063.9,772.1C1064.5,772.1 1065.1,752.6 1065.7,746.1C1066.3,739.6 1066.9,733 1067.5,733C1068,733 1068.6,741.7 1069.2,746.1C1069.8,750.4 1070.4,756.9 1071,759.1C1071.6,761.3 1072.2,756.9 1072.8,759.1C1073.4,761.3 1074,765.6 1074.6,772.1C1075.2,778.7 1075.8,791.7 1076.3,798.2C1076.9,804.7 1077.5,806.9 1078.1,811.2C1078.7,815.6 1079.3,817.7 1079.9,824.3C1080.5,830.8 1081.1,846 1081.7,850.3C1082.3,854.7 1082.9,846 1083.5,850.3C1084.1,854.7 1084.7,869.9 1085.2,876.4C1085.8,882.9 1086.4,889.4 1087,889.4C1087.6,889.4 1088.2,887.2 1088.8,876.4C1089.4,865.5 1090,843.8 1090.6,824.3C1091.2,804.7 1091.8,774.3 1092.4,759.1C1093,743.9 1093.5,741.7 1094.1,733C1094.7,724.4 1095.3,717.8 1095.9,707C1096.5,696.1 1097.1,678.8 1097.7,667.9C1098.3,657 1098.9,650.5 1099.5,641.8C1100.1,633.2 1100.7,624.5 1101.3,615.8C1101.9,607.1 1102.4,598.4 1103,589.7C1103.6,581 1104.2,569.3 1104.8,563.7C1105.4,558 1106,555.8 1106.6,555.8C1107.2,555.8 1107.8,560.2 1108.4,563.7C1109,567.1 1109.6,572.3 1110.2,576.7C1110.8,581 1111.3,581 1111.9,589.7C1112.5,598.4 1113.1,620.1 1113.7,628.8C1114.3,637.5 1114.9,639.7 1115.5,641.8C1116.1,644 1116.7,644 1117.3,641.8C1117.9,639.7 1118.5,633.2 1119.1,628.8C1119.6,624.5 1120.2,618 1120.8,615.8C1121.4,613.6 1122,620.1 1122.6,615.8C1123.2,611.4 1123.8,596.2 1124.4,589.7C1125,583.2 1125.6,581 1126.2,576.7C1126.8,572.3 1127.4,565.8 1128,563.7C1128.5,561.5 1129.1,561.5 1129.7,563.7C1130.3,565.8 1130.9,568 1131.5,576.7C1132.1,585.4 1132.7,602.8 1133.3,615.8C1133.9,628.8 1134.5,641.8 1135.1,654.9C1135.7,667.9 1136.3,685.3 1136.9,694C1137.4,702.6 1138,704.8 1138.6,707C1139.2,709.2 1139.8,704.8 1140.4,707C1141,709.2 1141.6,717.8 1142.2,720C1142.8,722.2 1143.4,720 1144,720C1144.6,720 1145.2,722.2 1145.7,720C1146.3,717.8 1146.9,713.5 1147.5,707C1148.1,700.5 1148.7,687.4 1149.3,680.9C1149.9,674.4 1150.5,670.1 1151.1,667.9C1151.7,665.7 1152.3,670.1 1152.9,667.9C1153.5,665.7 1154.1,659.2 1154.6,654.9C1155.2,650.5 1155.8,646.2 1156.4,641.8C1157,637.5 1157.6,628.8 1158.2,628.8C1158.8,628.8 1159.4,636.4 1160,641.8C1160.6,647.3 1161.2,657.9 1161.8,661.4C1162.4,664.9 1162.9,665.9 1163.5,662.7C1164.1,659.4 1164.7,647.5 1165.3,641.8C1165.9,636.2 1166.5,635.3 1167.1,628.8C1167.7,622.3 1168.3,607.1 1168.9,602.8C1169.5,598.4 1170.1,605.6 1170.7,602.8C1171.3,599.9 1171.8,588.4 1172.4,585.8C1173,583.2 1173.6,584.3 1174.2,587.1C1174.8,589.9 1175.4,596.7 1176,602.8C1176.6,608.8 1177.2,621.4 1177.8,623.6C1178.4,625.8 1179,618.6 1179.6,615.8C1180.2,613 1180.7,608.2 1181.3,606.7C1181.9,605.1 1182.5,603 1183.1,606.7C1183.7,610.4 1184.3,618.6 1184.9,628.8C1185.5,639 1186.1,659.2 1186.7,667.9C1187.3,676.6 1187.9,680.9 1188.5,680.9C1189,680.9 1189.6,672.2 1190.2,667.9C1190.8,663.6 1191.4,654.9 1192,654.9C1192.6,654.9 1193.2,659.2 1193.8,667.9C1194.4,676.6 1195,696.1 1195.6,707C1196.2,717.8 1196.8,728.7 1197.4,733C1197.9,737.4 1198.5,735.2 1199.1,733C1199.7,730.9 1200.3,724.4 1200.9,720C1201.5,715.7 1202.1,709.2 1202.7,707C1203.3,704.8 1203.9,707 1204.5,707C1205.1,707 1205.7,709.2 1206.3,707C1206.8,704.8 1207.4,696.1 1208,694C1208.6,691.8 1209.2,695.3 1209.8,694C1210.4,692.7 1211,687.2 1211.6,686.1C1212.2,685.1 1212.8,688.7 1213.4,687.4C1214,686.1 1214.6,681.6 1215.1,678.3C1215.7,675.1 1216.3,671.8 1216.9,667.9C1217.5,664 1218.1,659.2 1218.7,654.9C1219.3,650.5 1219.9,650.5 1220.5,641.8C1221.1,633.2 1221.7,613.6 1222.3,602.8C1222.9,591.9 1223.5,581 1224,576.7C1224.6,572.3 1225.2,578.9 1225.8,576.7C1226.4,574.5 1227,572.3 1227.6,563.7C1228.2,555 1228.8,541.9 1229.4,524.6C1230,507.2 1230.6,479 1231.2,459.4C1231.8,439.9 1232.4,420.3 1232.9,407.3C1233.5,394.3 1234.1,385.6 1234.7,381.2C1235.3,376.9 1235.9,381.2 1236.5,381.2C1237.1,381.2 1237.7,374.7 1238.3,381.2C1238.9,387.8 1239.5,405.1 1240.1,420.3C1240.7,435.5 1241.2,459.4 1241.8,472.4C1242.4,485.5 1243,489.8 1243.6,498.5C1244.2,507.2 1244.8,511.5 1245.4,524.6C1246,537.6 1246.6,559.3 1247.2,576.7C1247.8,594.1 1248.4,611.4 1249,628.8C1249.6,646.2 1250.1,663.6 1250.7,680.9C1251.3,698.3 1251.9,717.8 1252.5,733C1253.1,748.3 1253.7,761.3 1254.3,772.1C1254.9,783 1255.5,796 1256.1,798.2C1256.7,800.4 1257.3,793.9 1257.9,785.2C1258.4,776.5 1259,756.9 1259.6,746.1C1260.2,735.2 1260.8,726.5 1261.4,720C1262,713.5 1262.6,707 1263.2,707C1263.8,707 1264.4,715.7 1265,720C1265.6,724.4 1266.2,733 1266.8,733C1267.3,733 1267.9,724.4 1268.5,720C1269.1,715.7 1269.7,711.3 1270.3,707C1270.9,702.6 1271.5,696.1 1272.1,694C1272.7,691.8 1273.3,685.3 1273.9,694C1274.5,702.6 1275.1,730.9 1275.7,746.1C1276.2,761.3 1276.8,774.3 1277.4,785.2C1278,796 1278.6,809.1 1279.2,811.2C1279.8,813.4 1280.4,804.7 1281,798.2C1281.6,791.7 1282.2,776.5 1282.8,772.1C1283.4,767.8 1284,772.1 1284.5,772.1C1285.1,772.1 1285.7,772.1 1286.3,772.1C1286.9,772.1 1287.5,776.5 1288.1,772.1C1288.7,767.8 1289.3,752.6 1289.9,746.1C1290.5,739.6 1291.1,735.2 1291.7,733C1292.3,730.9 1292.9,735.2 1293.4,733C1294,730.9 1294.6,724.4 1295.2,720C1295.8,715.7 1296.4,709.2 1297,707C1297.6,704.8 1298.2,704.8 1298.8,707C1299.4,709.2 1300,715.7 1300.6,720C1301.2,724.4 1301.8,730.9 1302.3,733C1302.9,735.2 1303.5,737.4 1304.1,733C1304.7,728.7 1305.3,713.5 1305.9,707C1306.5,700.5 1307.1,698.3 1307.7,694C1308.3,689.6 1308.9,685.3 1309.5,680.9C1310.1,676.6 1310.6,674.4 1311.2,667.9C1311.8,661.4 1312.4,650.5 1313,641.8C1313.6,633.2 1314.2,626.6 1314.8,615.8C1315.4,604.9 1316,587.5 1316.6,576.7C1317.2,565.8 1317.8,559.3 1318.4,550.6C1319,541.9 1319.5,531.1 1320.1,524.6C1320.7,518.1 1321.3,514.4 1321.9,511.5C1322.5,508.7 1323.1,508.1 1323.7,507.6C1324.3,507.2 1324.9,506.1 1325.5,508.9C1326.1,511.8 1326.7,518.7 1327.3,524.6C1327.9,530.4 1328.4,541.9 1329,544.1C1329.6,546.3 1330.2,543 1330.8,537.6C1331.4,532.2 1332,522.4 1332.6,511.5C1333.2,500.7 1333.8,483.3 1334.4,472.4C1335,461.6 1335.6,449.6 1336.2,446.4C1336.7,443.1 1337.3,448.6 1337.9,452.9C1338.5,457.2 1339.1,464.8 1339.7,472.4C1340.3,480.1 1340.9,489.8 1341.5,498.5C1342.1,507.2 1342.7,513.7 1343.3,524.6C1343.9,535.4 1344.5,550.6 1345.1,563.7C1345.6,576.7 1346.2,587.5 1346.8,602.8C1347.4,618 1348,637.5 1348.6,654.9C1349.2,672.2 1349.8,685.3 1350.4,707C1351,728.7 1351.6,763.5 1352.2,785.2C1352.8,806.9 1353.4,828.6 1353.9,837.3C1354.5,846 1355.1,841.6 1355.7,837.3C1356.3,832.9 1356.9,813.4 1357.5,811.2C1358.1,809.1 1358.7,815.6 1359.3,824.3C1359.9,832.9 1360.5,850.3 1361.1,863.4C1361.7,876.4 1362.3,895.9 1362.8,902.4C1363.4,909 1364,904.6 1364.6,902.4C1365.2,900.3 1365.8,898.1 1366.4,889.4C1367,880.7 1367.6,863.3 1368.2,850.3C1368.8,837.3 1369.4,824.3 1370,811.2C1370.6,798.2 1371.2,783 1371.7,772.1C1372.3,761.3 1372.9,754.8 1373.5,746.1C1374.1,737.4 1374.7,726.5 1375.3,720C1375.9,713.5 1376.5,709.2 1377.1,707C1377.7,704.8 1378.3,709.2 1378.9,707C1379.5,704.8 1380,696.1 1380.6,694C1381.2,691.8 1381.8,694 1382.4,694C1383,694 1383.6,696.1 1384.2,694C1384.8,691.8 1385.4,687.4 1386,680.9C1386.6,674.4 1387.2,661.4 1387.8,654.9C1388.4,648.4 1388.9,646.2 1389.5,641.8C1390.1,637.5 1390.7,631 1391.3,628.8C1391.9,626.6 1392.5,628.8 1393.1,628.8C1393.7,628.8 1394.3,628.8 1394.9,628.8C1395.5,628.8 1396.1,628.8 1396.7,628.8C1397.3,628.8 1397.8,631 1398.4,628.8C1399,626.6 1399.6,618 1400.2,615.8C1400.8,613.6 1401.4,614.7 1402,615.8C1402.6,616.9 1403.2,622.3 1403.8,622.3C1404.4,622.3 1405,616.9 1405.6,615.8C1406.1,614.7 1406.7,615.8 1407.3,615.8C1407.9,615.8 1408.5,613.6 1409.1,615.8C1409.7,618 1410.3,624.5 1410.9,628.8C1411.5,633.2 1412.1,641.8 1412.7,641.8C1413.3,641.8 1413.9,635.3 1414.5,628.8C1415,622.3 1415.6,609.3 1416.2,602.8C1416.8,596.2 1417.4,594.7 1418,589.7C1418.6,584.7 1419.2,573.4 1419.8,572.8C1420.4,572.1 1421,583.6 1421.6,585.8C1422.2,588 1422.8,589.5 1423.4,585.8C1423.9,582.1 1424.5,576 1425.1,563.7C1425.7,551.3 1426.3,526.7 1426.9,511.5C1427.5,496.3 1428.1,483.3 1428.7,472.4C1429.3,461.6 1429.9,448.6 1430.5,446.4C1431.1,444.2 1431.7,455.1 1432.2,459.4C1432.8,463.8 1433.4,465.9 1434,472.4C1434.6,479 1435.2,489.8 1435.8,498.5C1436.4,507.2 1437,511.5 1437.6,524.6C1438.2,537.6 1438.8,561.5 1439.4,576.7C1440,591.9 1440.6,602.8 1441.1,615.8C1441.7,628.8 1442.3,644 1442.9,654.9C1443.5,665.7 1444.1,674.4 1444.7,680.9C1445.3,687.4 1445.9,689.6 1446.5,694C1447.1,698.3 1447.7,709.2 1448.3,707C1448.9,704.8 1449.4,689.6 1450,680.9C1450.6,672.2 1451.2,663.6 1451.8,654.9C1452.4,646.2 1453,637.5 1453.6,628.8C1454.2,620.1 1454.8,611.4 1455.4,602.8C1456,594.1 1456.6,581 1457.2,576.7C1457.8,572.3 1458.3,574.5 1458.9,576.7C1459.5,578.9 1460.1,581 1460.7,589.7C1461.3,598.4 1461.9,622.3 1462.5,628.8C1463.1,635.3 1463.7,626.6 1464.3,628.8C1464.9,631 1465.5,637.5 1466.1,641.8C1466.7,646.2 1467.2,651.4 1467.8,654.9C1468.4,658.3 1469,661.6 1469.6,662.7C1470.2,663.8 1470.8,661.8 1471.4,661.4C1472,661 1472.6,660.7 1473.2,660.1C1473.8,659.4 1474.4,660.5 1475,657.5C1475.5,654.4 1476.1,646.6 1476.7,641.8C1477.3,637.1 1477.9,633.2 1478.5,628.8C1479.1,624.5 1479.7,618 1480.3,615.8C1480.9,613.6 1481.5,615.8 1482.1,615.8C1482.7,615.8 1483.3,615.8 1483.9,615.8C1484.4,615.8 1485,620.1 1485.6,615.8C1486.2,611.4 1486.8,596.2 1487.4,589.7C1488,583.2 1488.6,585.4 1489.2,576.7C1489.8,568 1490.4,546.3 1491,537.6C1491.6,528.9 1492.2,524.6 1492.8,524.6C1493.3,524.6 1493.9,528.9 1494.5,537.6C1495.1,546.3 1495.7,565.8 1496.3,576.7C1496.9,587.5 1497.5,594.1 1498.1,602.8C1498.7,611.4 1499.3,620.1 1499.9,628.8C1500.5,637.5 1501.1,648.4 1501.6,654.9C1502.2,661.4 1502.8,661.4 1503.4,667.9C1504,674.4 1504.6,683.1 1505.2,694C1505.8,704.8 1506.4,720 1507,733C1507.6,746.1 1508.2,761.3 1508.8,772.1C1509.4,783 1510,793.9 1510.5,798.2C1511.1,802.5 1511.7,798.2 1512.3,798.2C1512.9,798.2 1513.5,800.4 1514.1,798.2C1514.7,796 1515.3,789.5 1515.9,785.2C1516.5,780.8 1517.1,778.7 1517.7,772.1C1518.3,765.6 1518.8,754.8 1519.4,746.1C1520,737.4 1520.6,726.5 1521.2,720C1521.8,713.5 1522.4,709.2 1523,707C1523.6,704.8 1524.2,707 1524.8,707C1525.4,707 1526,707 1526.6,707C1527.2,707 1527.7,704.8 1528.3,707C1528.9,709.2 1529.5,717.8 1530.1,720C1530.7,722.2 1531.3,720 1531.9,720C1532.5,720 1533.1,717.8 1533.7,720C1534.3,722.2 1534.9,730.9 1535.5,733C1536.1,735.2 1536.6,735.2 1537.2,733C1537.8,730.9 1538.4,728.7 1539,720C1539.6,711.3 1540.2,696.1 1540.8,680.9C1541.4,665.7 1542,648.4 1542.6,628.8C1543.2,609.3 1543.8,583.2 1544.4,563.7C1544.9,544.1 1545.5,528.9 1546.1,511.5C1546.7,494.2 1547.3,474.6 1547.9,459.4C1548.5,444.2 1549.1,431.2 1549.7,420.3C1550.3,409.5 1550.9,403 1551.5,394.3C1552.1,385.6 1552.7,374.5 1553.3,368.2C1553.8,361.9 1554.4,358.4 1555,356.5C1555.6,354.5 1556.2,352.4 1556.8,356.5C1557.4,360.6 1558,370.6 1558.6,381.2C1559.2,391.9 1559.8,403 1560.4,420.3C1561,437.7 1561.6,465.9 1562.2,485.5C1562.7,505 1563.3,518.1 1563.9,537.6C1564.5,557.1 1565.1,578.9 1565.7,602.8C1566.3,626.6 1566.9,652.7 1567.5,680.9C1568.1,709.2 1568.7,750.4 1569.3,772.1C1569.9,793.9 1570.5,800.4 1571,811.2C1571.6,822.1 1572.2,830.8 1572.8,837.3C1573.4,843.8 1574,846 1574.6,850.3C1575.2,854.7 1575.8,859.7 1576.4,863.4C1577,867 1577.6,872.5 1578.2,872.5C1578.8,872.5 1579.4,869.2 1579.9,863.4C1580.5,857.5 1581.1,846 1581.7,837.3C1582.3,828.6 1582.9,817.7 1583.5,811.2C1584.1,804.7 1584.7,800.4 1585.3,798.2C1585.9,796 1586.5,798.2 1587.1,798.2C1587.7,798.2 1588.3,796 1588.8,798.2C1589.4,800.4 1590,809.1 1590.6,811.2C1591.2,813.4 1591.8,809.1 1592.4,811.2C1593,813.4 1593.6,819.9 1594.2,824.3C1594.8,828.6 1595.4,830.8 1596,837.3C1596.6,843.8 1597.1,856 1597.7,863.4C1598.3,870.7 1598.9,878.6 1599.5,881.6C1600.1,884.6 1600.7,886.8 1601.3,881.6C1601.9,876.4 1602.5,862 1603.1,850.3C1603.7,838.6 1604.3,823.4 1604.9,811.2C1605.5,799.1 1606,785.4 1606.6,777.4C1607.2,769.3 1607.8,767.1 1608.4,763C1609,758.9 1609.6,756.1 1610.2,752.6C1610.8,749.1 1611.4,745.2 1612,742.2C1612.6,739.1 1613.2,735.2 1613.8,734.4C1614.3,733.5 1614.9,734.6 1615.5,737C1616.1,739.3 1616.7,744.3 1617.3,748.7C1617.9,753 1618.5,760.2 1619.1,763C1619.7,765.8 1620.3,766.3 1620.9,765.6C1621.5,765 1622.1,764.5 1622.7,759.1C1623.2,753.7 1623.8,739.6 1624.4,733C1625,726.5 1625.6,724.4 1626.2,720C1626.8,715.7 1627.4,709.2 1628,707C1628.6,704.8 1629.2,711.3 1629.8,707C1630.4,702.6 1631,685.3 1631.6,680.9C1632.1,676.6 1632.7,680.9 1633.3,680.9C1633.9,680.9 1634.5,678.8 1635.1,680.9C1635.7,683.1 1636.3,689.6 1636.9,694C1637.5,698.3 1638.1,704.8 1638.7,707C1639.3,709.2 1639.9,707 1640.4,707C1641,707 1641.6,711.3 1642.2,707C1642.8,702.6 1643.4,687.4 1644,680.9C1644.6,674.4 1645.2,672.2 1645.8,667.9C1646.4,663.6 1647,659.2 1647.6,654.9C1648.2,650.5 1648.8,648.4 1649.3,641.8C1649.9,635.3 1650.5,626.6 1651.1,615.8C1651.7,604.9 1652.3,585.4 1652.9,576.7C1653.5,568 1654.1,568 1654.7,563.7C1655.3,559.3 1655.9,555 1656.5,550.6C1657.1,546.3 1657.7,544.1 1658.2,537.6C1658.8,531.1 1659.4,518.1 1660,511.5C1660.6,505 1661.2,496.3 1661.8,498.5C1662.4,500.7 1663,515.9 1663.6,524.6C1664.2,533.3 1664.8,539.8 1665.4,550.6C1666,561.5 1666.5,578.9 1667.1,589.7C1667.7,600.6 1668.3,602.8 1668.9,615.8C1669.5,628.8 1670.1,653.6 1670.7,667.9C1671.3,682.2 1671.9,697.4 1672.5,701.8C1673.1,706.1 1673.7,701.8 1674.3,694C1674.9,686.1 1675.4,663.6 1676,654.9C1676.6,646.2 1677.2,646.2 1677.8,641.8C1678.4,637.5 1679,631 1679.6,628.8C1680.2,626.6 1680.8,630.3 1681.4,628.8C1682,627.3 1682.6,621.2 1683.2,619.7C1683.8,618.2 1684.3,619.5 1684.9,619.7C1685.5,619.9 1686.1,619.5 1686.7,621C1687.3,622.5 1687.9,624.9 1688.5,628.8C1689.1,632.7 1689.7,641.6 1690.3,644.4C1690.9,647.3 1691.5,645.7 1692.1,645.7C1692.6,645.7 1693.2,647.3 1693.8,644.4C1694.4,641.6 1695,635.8 1695.6,628.8C1696.2,621.9 1696.8,609.3 1697.4,602.8C1698,596.2 1698.6,594.1 1699.2,589.7C1699.8,585.4 1700.4,578.9 1701,576.7C1701.5,574.5 1702.1,576.7 1702.7,576.7C1703.3,576.7 1703.9,576.7 1704.5,576.7C1705.1,576.7 1705.7,574.5 1706.3,576.7C1706.9,578.9 1707.5,587.5 1708.1,589.7C1708.7,591.9 1709.3,585.4 1709.8,589.7C1710.4,594.1 1711,611.4 1711.6,615.8C1712.2,620.1 1712.8,613.6 1713.4,615.8C1714,618 1714.6,622.3 1715.2,628.8C1715.8,635.3 1716.4,646.2 1717,654.9C1717.6,663.6 1718.2,676.6 1718.7,680.9C1719.3,685.3 1719.9,680.9 1720.5,680.9C1721.1,680.9 1721.7,676.6 1722.3,680.9C1722.9,685.3 1723.5,696.1 1724.1,707C1724.7,717.8 1725.3,735.2 1725.9,746.1C1726.5,756.9 1727.1,766.7 1727.6,772.1C1728.2,777.6 1728.8,778.7 1729.4,778.7C1730,778.7 1730.6,777.6 1731.2,772.1C1731.8,766.7 1732.4,754.8 1733,746.1C1733.6,737.4 1734.2,730.9 1734.8,720C1735.4,709.2 1735.9,689.6 1736.5,680.9C1737.1,672.2 1737.7,672.2 1738.3,667.9C1738.9,663.6 1739.5,661.4 1740.1,654.9C1740.7,648.4 1741.3,637.5 1741.9,628.8C1742.5,620.1 1743.1,613.6 1743.7,602.8C1744.3,591.9 1744.8,573.2 1745.4,563.7C1746,554.1 1746.6,548.5 1747.2,545.4C1747.8,542.4 1748.4,540.2 1749,545.4C1749.6,550.6 1750.2,560.6 1750.8,576.7C1751.4,592.8 1752,624.5 1752.6,641.8C1753.2,659.2 1753.7,670.1 1754.3,680.9C1754.9,691.8 1755.5,700.5 1756.1,707C1756.7,713.5 1757.3,715.7 1757.9,720C1758.5,724.4 1759.1,728.7 1759.7,733C1760.3,737.4 1760.9,739.6 1761.5,746.1C1762,752.6 1762.6,761.3 1763.2,772.1C1763.8,783 1764.4,800.4 1765,811.2C1765.6,822.1 1766.2,828.6 1766.8,837.3C1767.4,846 1768,856.4 1768.6,863.4C1769.2,870.3 1769.8,875.9 1770.4,879C1770.9,882 1771.5,884.2 1772.1,881.6C1772.7,879 1773.3,870.7 1773.9,863.4C1774.5,856 1775.1,848.1 1775.7,837.3C1776.3,826.4 1776.9,809.1 1777.5,798.2C1778.1,787.3 1778.7,780.8 1779.2,772.1C1779.8,763.5 1780.4,754.8 1781,746.1C1781.6,737.4 1782.2,728.3 1782.8,720C1783.4,711.8 1784,700.5 1784.6,696.6C1785.2,692.7 1785.8,692.7 1786.4,696.6C1787,700.5 1787.6,711.8 1788.1,720C1788.7,728.3 1789.3,739.6 1789.9,746.1C1790.5,752.6 1791.1,753.9 1791.7,759.1C1792.3,764.3 1792.9,774.5 1793.5,777.4C1794.1,780.2 1794.7,781.3 1795.3,776C1795.9,770.8 1796.5,757.6 1797,746.1C1797.6,734.6 1798.2,720 1798.8,707C1799.4,694 1800,680.9 1800.6,667.9C1801.2,654.9 1801.8,639.7 1802.4,628.8C1803,618 1803.6,609.3 1804.2,602.8C1804.8,596.2 1805.3,594.1 1805.9,589.7C1806.5,585.4 1807.1,585.4 1807.7,576.7C1808.3,568 1808.9,552.8 1809.5,537.6C1810.1,522.4 1810.7,497.6 1811.3,485.5C1811.9,473.3 1812.5,466.8 1813.1,464.6C1813.7,462.5 1814.2,464.6 1814.8,472.4C1815.4,480.3 1816,496.3 1816.6,511.5C1817.2,526.7 1817.8,546.3 1818.4,563.7C1819,581 1819.6,594.1 1820.2,615.8C1820.8,637.5 1821.4,670.1 1822,694C1822.6,717.8 1823.1,741.7 1823.7,759.1C1824.3,776.5 1824.9,785.2 1825.5,798.2C1826.1,811.2 1826.7,824.7 1827.3,837.3C1827.9,849.9 1828.5,866.4 1829.1,873.8C1829.7,881.2 1830.3,880.3 1830.9,881.6C1831.4,882.9 1832,882.9 1832.6,881.6C1833.2,880.3 1833.8,879 1834.4,873.8C1835,868.6 1835.6,858.6 1836.2,850.3C1836.8,842.1 1837.4,835.1 1838,824.3C1838.6,813.4 1839.2,796 1839.8,785.2C1840.3,774.3 1840.9,765.6 1841.5,759.1C1842.1,752.6 1842.7,751.9 1843.3,746.1C1843.9,740.2 1844.5,726.1 1845.1,723.9C1845.7,721.8 1846.3,729.4 1846.9,733C1847.5,736.7 1848.1,739.6 1848.7,746.1C1849.2,752.6 1849.8,763.5 1850.4,772.1C1851,780.8 1851.6,791.7 1852.2,798.2C1852.8,804.7 1853.4,811.2 1854,811.2C1854.6,811.2 1855.2,802.5 1855.8,798.2C1856.4,793.9 1857,791.7 1857.5,785.2C1858.1,778.7 1858.7,765.6 1859.3,759.1C1859.9,752.6 1860.5,750.4 1861.1,746.1C1861.7,741.7 1862.3,739.6 1862.9,733C1863.5,726.5 1864.1,717.8 1864.7,707C1865.3,696.1 1865.9,678.8 1866.4,667.9C1867,657 1867.6,649.9 1868.2,641.8C1868.8,633.8 1869.4,623.4 1870,619.7C1870.6,616 1871.2,618.2 1871.8,619.7C1872.4,621.2 1873,622.9 1873.6,628.8C1874.2,634.7 1874.7,644 1875.3,654.9C1875.9,665.7 1876.5,683.1 1877.1,694C1877.7,704.8 1878.3,715.7 1878.9,720C1879.5,724.4 1880.1,722.2 1880.7,720C1881.3,717.8 1881.9,709.2 1882.5,707C1883.1,704.8 1883.6,704.8 1884.2,707C1884.8,709.2 1885.4,717.8 1886,720C1886.6,722.2 1887.2,720 1887.8,720C1888.4,720 1889,722.2 1889.6,720C1890.2,717.8 1890.8,709.2 1891.4,707C1892,704.8 1892.5,709.2 1893.1,707C1893.7,704.8 1894.3,696.1 1894.9,694C1895.5,691.8 1896.1,691.8 1896.7,694C1897.3,696.1 1897.9,702.6 1898.5,707C1899.1,711.3 1899.7,715.7 1900.3,720C1900.8,724.4 1901.4,735.2 1902,733C1902.6,730.9 1903.2,717.8 1903.8,707C1904.4,696.1 1905,678.8 1905.6,667.9C1906.2,657 1906.8,646.2 1907.4,641.8C1908,637.5 1908.6,638.4 1909.2,641.8C1909.7,645.3 1910.3,660.5 1910.9,662.7C1911.5,664.9 1912.1,658.3 1912.7,654.9C1913.3,651.4 1913.9,650.5 1914.5,641.8C1915.1,633.2 1915.7,611.4 1916.3,602.8C1916.9,594.1 1917.5,593.2 1918.1,589.7C1918.6,586.2 1919.2,579.7 1919.8,581.9C1920.4,584.1 1921,599.3 1921.6,602.8C1922.2,606.2 1922.8,602.8 1923.4,602.8C1924,602.8 1924.6,607.1 1925.2,602.8C1925.8,598.4 1926.4,585.4 1926.9,576.7C1927.5,568 1928.1,561.5 1928.7,550.6C1929.3,539.8 1929.9,524.6 1930.5,511.5C1931.1,498.5 1931.7,487.7 1932.3,472.4C1932.9,457.2 1933.5,435.5 1934.1,420.3C1934.7,405.1 1935.3,392.1 1935.8,381.2C1936.4,370.4 1937,364.4 1937.6,355.2C1938.2,346 1938.8,330.7 1939.4,325.9C1940,321 1940.6,323.1 1941.2,325.9C1941.8,328.6 1942.4,330.7 1943,342.1C1943.6,353.6 1944.2,374.7 1944.7,394.3C1945.3,413.8 1945.9,433.4 1946.5,459.4C1947.1,485.5 1947.7,524.6 1948.3,550.6C1948.9,576.7 1949.5,594.1 1950.1,615.8C1950.7,637.5 1951.3,663.6 1951.9,680.9C1952.5,698.3 1953,711.3 1953.6,720C1954.2,728.7 1954.8,728.7 1955.4,733C1956,737.4 1956.6,741.7 1957.2,746.1C1957.8,750.4 1958.4,756.9 1959,759.1C1959.6,761.3 1960.2,761.3 1960.8,759.1C1961.4,756.9 1961.9,754.8 1962.5,746.1C1963.1,737.4 1963.7,715.7 1964.3,707C1964.9,698.3 1965.5,702.6 1966.1,694C1966.7,685.3 1967.3,663.6 1967.9,654.9C1968.5,646.2 1969.1,646.2 1969.7,641.8C1970.2,637.5 1970.8,631 1971.4,628.8C1972,626.6 1972.6,624.5 1973.2,628.8C1973.8,633.2 1974.4,646.2 1975,654.9C1975.6,663.6 1976.2,670.1 1976.8,680.9C1977.4,691.8 1978,707 1978.6,720C1979.1,733 1979.7,750.4 1980.3,759.1C1980.9,767.8 1981.5,766.3 1982.1,772.1C1982.7,778 1983.3,791.5 1983.9,794.3C1984.5,797.1 1985.1,791.7 1985.7,789.1C1986.3,786.5 1986.9,783.6 1987.5,778.7C1988,773.7 1988.6,766.7 1989.2,759.1C1989.8,751.5 1990.4,743.9 1991,733C1991.6,722.2 1992.2,704.8 1992.8,694C1993.4,683.1 1994,674.4 1994.6,667.9C1995.2,661.4 1995.8,659.2 1996.3,654.9C1996.9,650.5 1997.5,650.5 1998.1,641.8C1998.7,633.2 1999.3,615.8 1999.9,602.8C2000.5,589.7 2001.1,572.3 2001.7,563.7C2002.3,555 2002.9,550.6 2003.5,550.6C2004.1,550.6 2004.7,559.3 2005.2,563.7C2005.8,568 2006.4,574.5 2007,576.7C2007.6,578.9 2008.2,576.7 2008.8,576.7C2009.4,576.7 2010,576.7 2010.6,576.7C2011.2,576.7 2011.8,572.3 2012.4,576.7C2013,581 2013.6,598.4 2014.1,602.8C2014.7,607.1 2015.3,598.4 2015.9,602.8C2016.5,607.1 2017.1,621 2017.7,628.8C2018.3,636.6 2018.9,647.5 2019.5,649.7C2020.1,651.8 2020.7,645.3 2021.3,641.8C2021.9,638.4 2022.4,635.3 2023,628.8C2023.6,622.3 2024.2,608 2024.8,602.8C2025.4,597.5 2026,598.6 2026.6,597.5C2027.2,596.5 2027.8,595.8 2028.4,596.2C2029,596.7 2029.6,596.9 2030.2,600.1C2030.8,603.4 2031.3,608.8 2031.9,615.8C2032.5,622.7 2033.1,631 2033.7,641.8C2034.3,652.7 2034.9,670.1 2035.5,680.9C2036.1,691.8 2036.7,700.5 2037.3,707C2037.9,713.5 2038.5,713.5 2039.1,720C2039.7,726.5 2040.2,735.2 2040.8,746.1C2041.4,756.9 2042,772.1 2042.6,785.2C2043.2,798.2 2043.8,816.2 2044.4,824.3C2045,832.3 2045.6,833.4 2046.2,833.4C2046.8,833.4 2047.4,830.1 2048,824.3C2048.5,818.4 2049.1,804.7 2049.7,798.2C2050.3,791.7 2050.9,789.5 2051.5,785.2C2052.1,780.8 2052.7,776.5 2053.3,772.1C2053.9,767.8 2054.5,765.6 2055.1,759.1C2055.7,752.6 2056.3,739.6 2056.9,733C2057.4,726.5 2058,722.2 2058.6,720C2059.2,717.8 2059.8,717.8 2060.4,720C2061,722.2 2061.6,726.5 2062.2,733C2062.8,739.6 2063.4,752.6 2064,759.1C2064.6,765.6 2065.2,765.6 2065.7,772.1C2066.3,778.7 2066.9,793.9 2067.5,798.2C2068.1,802.5 2068.7,798.2 2069.3,798.2C2069.9,798.2 2070.5,799.5 2071.1,798.2C2071.7,796.9 2072.3,790.4 2072.9,790.4C2073.5,790.4 2074.1,795.6 2074.6,798.2C2075.2,800.8 2075.8,806 2076.4,806C2077,806 2077.6,801.7 2078.2,798.2C2078.8,794.7 2079.4,789.5 2080,785.2C2080.6,780.8 2081.2,772.1 2081.8,772.1C2082.4,772.1 2083,780.8 2083.5,785.2C2084.1,789.5 2084.7,796 2085.3,798.2C2085.9,800.4 2086.5,800.4 2087.1,798.2C2087.7,796 2088.3,789.5 2088.9,785.2C2089.5,780.8 2090.1,776.5 2090.7,772.1C2091.3,767.8 2091.8,767.8 2092.4,759.1C2093,750.4 2093.6,733 2094.2,720C2094.8,707 2095.4,692.7 2096,680.9C2096.6,669.2 2097.5,654.9 2097.8,649.7L2097.8,731.8 L533.6,731.8 Z"/></clipPath></defs>
<g clip-path="url(#hi)">
<rect x="500" y="538.6" width="1700" height="65.4" fill="#431a15"/>
<rect x="500" y="473.4" width="1700" height="65.1" fill="url(#gr)"/>
<rect x="500" y="250.9" width="1700" height="222.5" fill="#ff1c0a"/>
</g>
<g clip-path="url(#lo)">
<rect x="500" y="731.8" width="1700" height="66.4" fill="#161e44"/>
<rect x="500" y="798.2" width="1700" height="65.1" fill="url(#gb)"/>
<rect x="500" y="863.4" width="1700" height="195.4" fill="#0c3cff"/>
</g>
<path d="M288,407.3H477M495.6,407.3H2180.3" stroke="#fff" stroke-opacity="0.1" stroke-width="2.0" fill="none"/>
<path d="M288,472.4H453.5M495.6,472.4H2180.3" stroke="#fff" stroke-opacity="0.1" stroke-width="2.0" fill="none"/>
<path d="M288,537.6H477M495.6,537.6H2180.3" stroke="#fff" stroke-opacity="0.1" stroke-width="2.0" fill="none"/>
<path d="M138.5,603H453.5M495.6,603H2180.3" stroke="#fff" stroke-opacity="0.12" stroke-width="3.3" fill="none"/>
<path d="M138.5,733.2H443.5M495.6,733.2H2180.3" stroke="#fff" stroke-opacity="0.12" stroke-width="3.3" fill="none"/>
<path d="M288,798.2H467M495.6,798.2H2180.3" stroke="#fff" stroke-opacity="0.1" stroke-width="2.0" fill="none"/>
<path d="M288,863.4H443.5M495.6,863.4H2180.3" stroke="#fff" stroke-opacity="0.1" stroke-width="2.0" fill="none"/>
<path d="M288,928.5H477M495.6,928.5H2180.3" stroke="#fff" stroke-opacity="0.1" stroke-width="2.0" fill="none"/>
<line x1="511" y1="667.9" x2="2180.3" y2="667.9" stroke="#242424" stroke-width="6.4"/>
<line x1="2098.6" y1="307.5" x2="2098.6" y2="649.7" stroke="#8e8e8a" stroke-width="2.2"/>
<text x="2031.66" y="298" font-size="32.6" fill="#ececec" textLength="147.85" lengthAdjust="spacingAndGlyphs">2023 MAM</text>
<path d="M533.6,867.3C533.9,862.3 534.8,844.5 535.4,837.3C536,830.1 536.6,826.4 537.2,824.3C537.8,822.1 538.3,826.4 538.9,824.3C539.5,822.1 540.1,817.7 540.7,811.2C541.3,804.7 541.9,798.2 542.5,785.2C543.1,772.1 543.7,743.9 544.3,733C544.9,722.2 545.5,722.2 546.1,720C546.6,717.8 547.2,720 547.8,720C548.4,720 549,715.7 549.6,720C550.2,724.4 550.8,737.4 551.4,746.1C552,754.8 552.6,767.8 553.2,772.1C553.8,776.5 554.4,778.7 555,772.1C555.5,765.6 556.1,746.1 556.7,733C557.3,720 557.9,709.2 558.5,694C559.1,678.8 559.7,654.9 560.3,641.8C560.9,628.8 561.5,624.5 562.1,615.8C562.7,607.1 563.3,596.2 563.9,589.7C564.4,583.2 565,583.2 565.6,576.7C566.2,570.2 566.8,557.1 567.4,550.6C568,544.1 568.6,543 569.2,537.6C569.8,532.2 570.4,518.1 571,518.1C571.6,518.1 572.2,530 572.7,537.6C573.3,545.2 573.9,552.8 574.5,563.7C575.1,574.5 575.7,594.1 576.3,602.8C576.9,611.4 577.5,611.4 578.1,615.8C578.7,620.1 579.3,626.6 579.9,628.8C580.5,631 581.1,626.6 581.6,628.8C582.2,631 582.8,635.3 583.4,641.8C584,648.4 584.6,661.4 585.2,667.9C585.8,674.4 586.4,680.9 587,680.9C587.6,680.9 588.2,673.3 588.8,667.9C589.4,662.5 590,650.5 590.5,648.4C591.1,646.2 591.7,652.5 592.3,654.9C592.9,657.3 593.5,662.7 594.1,662.7C594.7,662.7 595.3,662.7 595.9,654.9C596.5,647.1 597.1,626.6 597.7,615.8C598.3,604.9 598.8,594.1 599.4,589.7C600,585.4 600.6,591.9 601.2,589.7C601.8,587.5 602.4,579.9 603,576.7C603.6,573.4 604.2,571.5 604.8,570.2C605.4,568.9 606,568.2 606.6,568.9C607.2,569.5 607.7,573.6 608.3,574.1C608.9,574.5 609.5,572.8 610.1,571.5C610.7,570.2 611.3,568.2 611.9,566.3C612.5,564.3 613.1,561.3 613.7,559.8C614.3,558.2 614.9,556.9 615.5,557.1C616.1,557.4 616.6,559.1 617.2,561.1C617.8,563 618.4,561.9 619,568.9C619.6,575.8 620.2,586.2 620.8,602.8C621.4,619.3 622,648.4 622.6,667.9C623.2,687.4 623.8,709.2 624.4,720C624.9,730.9 625.5,730.9 626.1,733C626.7,735.2 627.3,730.9 627.9,733C628.5,735.2 629.1,739.6 629.7,746.1C630.3,752.6 630.9,765.6 631.5,772.1C632.1,778.7 632.7,785.2 633.3,785.2C633.8,785.2 634.4,776.5 635,772.1C635.6,767.8 636.2,761.3 636.8,759.1C637.4,756.9 638,759.1 638.6,759.1C639.2,759.1 639.8,761.3 640.4,759.1C641,756.9 641.6,746.1 642.1,746.1C642.7,746.1 643.3,754.8 643.9,759.1C644.5,763.5 645.1,770 645.7,772.1C646.3,774.3 646.9,774.3 647.5,772.1C648.1,770 648.7,761.3 649.3,759.1C649.9,756.9 650.5,759.1 651,759.1C651.6,759.1 652.2,750.4 652.8,759.1C653.4,767.8 654,796 654.6,811.2C655.2,826.4 655.8,837.3 656.4,850.3C657,863.3 657.6,887.2 658.2,889.4C658.8,891.6 659.4,876.4 659.9,863.4C660.5,850.3 661.1,826.4 661.7,811.2C662.3,796 662.9,783 663.5,772.1C664.1,761.3 664.7,752.6 665.3,746.1C665.9,739.6 666.5,735.2 667.1,733C667.7,730.9 668.2,733 668.8,733C669.4,733 670,731.5 670.6,733C671.2,734.6 671.8,740.7 672.4,742.2C673,743.7 673.6,743.7 674.2,742.2C674.8,740.7 675.4,736.7 676,733C676.6,729.4 677.1,722.2 677.7,720C678.3,717.8 678.9,720 679.5,720C680.1,720 680.7,724.4 681.3,720C681.9,715.7 682.5,704.8 683.1,694C683.7,683.1 684.3,667.9 684.9,654.9C685.5,641.8 686,628.8 686.6,615.8C687.2,602.8 687.8,587.5 688.4,576.7C689,565.8 689.6,559.3 690.2,550.6C690.8,541.9 691.4,533.3 692,524.6C692.6,515.9 693.2,502.9 693.8,498.5C694.3,494.2 694.9,498.5 695.5,498.5C696.1,498.5 696.7,500.7 697.3,498.5C697.9,496.3 698.5,489.8 699.1,485.5C699.7,481.1 700.3,479 700.9,472.4C701.5,465.9 702.1,453.1 702.7,446.4C703.2,439.7 703.8,432.1 704.4,432.1C705,432.1 705.6,435.3 706.2,446.4C706.8,457.5 707.4,481.1 708,498.5C708.6,515.9 709.2,537.6 709.8,550.6C710.4,563.7 711,570.2 711.5,576.7C712.1,583.2 712.7,587.5 713.3,589.7C713.9,591.9 714.5,585.4 715.1,589.7C715.7,594.1 716.3,611.4 716.9,615.8C717.5,620.1 718.1,615.8 718.7,615.8C719.3,615.8 719.9,618 720.4,615.8C721,613.6 721.6,607.1 722.2,602.8C722.8,598.4 723.4,591.9 724,589.7C724.6,587.5 725.2,589.7 725.8,589.7C726.4,589.7 727,587.5 727.6,589.7C728.2,591.9 728.8,596.2 729.3,602.8C729.9,609.3 730.5,622.3 731.1,628.8C731.7,635.3 732.3,633.2 732.9,641.8C733.5,650.5 734.1,672.2 734.7,680.9C735.3,689.6 735.9,689.6 736.5,694C737.1,698.3 737.6,709.2 738.2,707C738.8,704.8 739.4,687.4 740,680.9C740.6,674.4 741.2,670.1 741.8,667.9C742.4,665.7 743,667.9 743.6,667.9C744.2,667.9 744.8,665.7 745.4,667.9C746,670.1 746.5,678.8 747.1,680.9C747.7,683.1 748.3,680.9 748.9,680.9C749.5,680.9 750.1,683.1 750.7,680.9C751.3,678.8 751.9,670.1 752.5,667.9C753.1,665.7 753.7,667.9 754.3,667.9C754.9,667.9 755.4,670.1 756,667.9C756.6,665.7 757.2,659.2 757.8,654.9C758.4,650.5 759,646.2 759.6,641.8C760.2,637.5 760.8,628.8 761.4,628.8C762,628.8 762.6,637.5 763.2,641.8C763.7,646.2 764.3,652.7 764.9,654.9C765.5,657 766.1,652.7 766.7,654.9C767.3,657 767.9,665.7 768.5,667.9C769.1,670.1 769.7,667.9 770.3,667.9C770.9,667.9 771.5,670.1 772.1,667.9C772.6,665.7 773.2,659.2 773.8,654.9C774.4,650.5 775,646.2 775.6,641.8C776.2,637.5 776.8,626.6 777.4,628.8C778,631 778.6,646.2 779.2,654.9C779.8,663.6 780.4,672.2 781,680.9C781.5,689.6 782.1,702.6 782.7,707C783.3,711.3 783.9,709.2 784.5,707C785.1,704.8 785.7,696.1 786.3,694C786.9,691.8 787.5,694 788.1,694C788.7,694 789.3,694 789.8,694C790.4,694 791,694 791.6,694C792.2,694 792.8,691.8 793.4,694C794,696.1 794.6,704.8 795.2,707C795.8,709.2 796.4,709.2 797,707C797.6,704.8 798.2,700.5 798.7,694C799.3,687.4 799.9,670.1 800.5,667.9C801.1,665.7 801.7,678.8 802.3,680.9C802.9,683.1 803.5,678.8 804.1,680.9C804.7,683.1 805.3,689.6 805.9,694C806.5,698.3 807,702.6 807.6,707C808.2,711.3 808.8,717.8 809.4,720C810,722.2 810.6,724.4 811.2,720C811.8,715.7 812.4,707 813,694C813.6,680.9 814.2,652.7 814.8,641.8C815.4,631 815.9,631 816.5,628.8C817.1,626.6 817.7,633.2 818.3,628.8C818.9,624.5 819.5,615.8 820.1,602.8C820.7,589.7 821.3,563.7 821.9,550.6C822.5,537.6 823.1,531.1 823.7,524.6C824.3,518.1 824.8,515.9 825.4,511.5C826,507.2 826.6,502.2 827.2,498.5C827.8,494.8 828.4,489.4 829,489.4C829.6,489.4 830.2,492.6 830.8,498.5C831.4,504.4 832,509.4 832.6,524.6C833.1,539.8 833.7,568 834.3,589.7C834.9,611.4 835.5,635.3 836.1,654.9C836.7,674.4 837.3,691.8 837.9,707C838.5,722.2 839.1,739.6 839.7,746.1C840.3,752.6 840.9,746.1 841.5,746.1C842,746.1 842.6,743.9 843.2,746.1C843.8,748.3 844.4,754.8 845,759.1C845.6,763.5 846.2,770 846.8,772.1C847.4,774.3 848,772.1 848.6,772.1C849.2,772.1 849.8,772.1 850.4,772.1C850.9,772.1 851.5,776.5 852.1,772.1C852.7,767.8 853.3,756.9 853.9,746.1C854.5,735.2 855.1,717.8 855.7,707C856.3,696.1 856.9,691.8 857.5,680.9C858.1,670.1 858.7,654.9 859.2,641.8C859.8,628.8 860.4,615.8 861,602.8C861.6,589.7 862.2,578.9 862.8,563.7C863.4,548.5 864,526.7 864.6,511.5C865.2,496.3 865.8,486.8 866.4,472.4C867,458.1 867.6,435.5 868.1,425.5C868.7,415.6 869.3,414.9 869.9,412.5C870.5,410.1 871.1,405.6 871.7,411.2C872.3,416.9 872.9,434 873.5,446.4C874.1,458.8 874.7,474.6 875.3,485.5C875.9,496.3 876.5,502.9 877,511.5C877.6,520.2 878.2,526.7 878.8,537.6C879.4,548.5 880,563.7 880.6,576.7C881.2,589.7 881.8,604.9 882.4,615.8C883,626.6 883.6,637.5 884.2,641.8C884.8,646.2 885.3,639.7 885.9,641.8C886.5,644 887.1,648.4 887.7,654.9C888.3,661.4 888.9,676.6 889.5,680.9C890.1,685.3 890.7,678.8 891.3,680.9C891.9,683.1 892.5,689.6 893.1,694C893.7,698.3 894.2,702.6 894.8,707C895.4,711.3 896,715.7 896.6,720C897.2,724.4 897.8,730.9 898.4,733C899,735.2 899.6,735.2 900.2,733C900.8,730.9 901.4,726.5 902,720C902.5,713.5 903.1,702.6 903.7,694C904.3,685.3 904.9,672.2 905.5,667.9C906.1,663.6 906.7,663.6 907.3,667.9C907.9,672.2 908.5,687.4 909.1,694C909.7,700.5 910.3,702.6 910.9,707C911.4,711.3 912,720 912.6,720C913.2,720 913.8,707 914.4,707C915,707 915.6,713.5 916.2,720C916.8,726.5 917.4,739.6 918,746.1C918.6,752.6 919.2,759.1 919.8,759.1C920.3,759.1 920.9,752.6 921.5,746.1C922.1,739.6 922.7,733 923.3,720C923.9,707 924.5,683.1 925.1,667.9C925.7,652.7 926.3,641.8 926.9,628.8C927.5,615.8 928.1,594.1 928.6,589.7C929.2,585.4 929.8,598.4 930.4,602.8C931,607.1 931.6,615.8 932.2,615.8C932.8,615.8 933.4,609.3 934,602.8C934.6,596.2 935.2,587.5 935.8,576.7C936.4,565.8 937,546.3 937.5,537.6C938.1,528.9 938.7,526.7 939.3,524.6C939.9,522.4 940.5,520.2 941.1,524.6C941.7,528.9 942.3,544.1 942.9,550.6C943.5,557.1 944.1,557.1 944.7,563.7C945.3,570.2 945.9,581 946.4,589.7C947,598.4 947.6,611.4 948.2,615.8C948.8,620.1 949.4,618 950,615.8C950.6,613.6 951.2,611.4 951.8,602.8C952.4,594.1 953,571.5 953.6,563.7C954.2,555.8 954.7,555.8 955.3,555.8C955.9,555.8 956.5,558 957.1,563.7C957.7,569.3 958.3,583.2 958.9,589.7C959.5,596.2 960.1,596.2 960.7,602.8C961.3,609.3 961.9,624.5 962.5,628.8C963.1,633.2 963.6,626.6 964.2,628.8C964.8,631 965.4,635.3 966,641.8C966.6,648.4 967.2,657 967.8,667.9C968.4,678.8 969,694 969.6,707C970.2,720 970.8,735.2 971.4,746.1C972,756.9 972.5,767.8 973.1,772.1C973.7,776.5 974.3,774.3 974.9,772.1C975.5,770 976.1,756.9 976.7,759.1C977.3,761.3 977.9,776.5 978.5,785.2C979.1,793.9 979.7,801.2 980.3,811.2C980.8,821.2 981.4,839.2 982,845.1C982.6,851 983.2,852.1 983.8,846.4C984.4,840.8 985,823.6 985.6,811.2C986.2,798.9 986.8,780.8 987.4,772.1C988,763.5 988.6,761.3 989.2,759.1C989.7,756.9 990.3,756.9 990.9,759.1C991.5,761.3 992.1,770 992.7,772.1C993.3,774.3 993.9,772.1 994.5,772.1C995.1,772.1 995.7,770 996.3,772.1C996.9,774.3 997.5,780.8 998,785.2C998.6,789.5 999.2,798.2 999.8,798.2C1000.4,798.2 1001,791.7 1001.6,785.2C1002.2,778.7 1002.8,770 1003.4,759.1C1004,748.3 1004.6,737.4 1005.2,720C1005.8,702.6 1006.4,672.2 1006.9,654.9C1007.5,637.5 1008.1,628.8 1008.7,615.8C1009.3,602.8 1009.9,585.4 1010.5,576.7C1011.1,568 1011.7,572.3 1012.3,563.7C1012.9,555 1013.5,537.6 1014.1,524.6C1014.7,511.5 1015.3,496.3 1015.8,485.5C1016.4,474.6 1017,468.1 1017.6,459.4C1018.2,450.7 1018.8,444 1019.4,433.4C1020,422.7 1020.6,401.9 1021.2,395.6C1021.8,389.3 1022.4,389.3 1023,395.6C1023.6,401.9 1024.1,414 1024.7,433.4C1025.3,452.7 1025.9,483.3 1026.5,511.5C1027.1,539.8 1027.7,574.5 1028.3,602.8C1028.9,631 1029.5,659.2 1030.1,680.9C1030.7,702.6 1031.3,715.7 1031.9,733C1032.5,750.4 1033,772.1 1033.6,785.2C1034.2,798.2 1034.8,802.5 1035.4,811.2C1036,819.9 1036.6,828.6 1037.2,837.3C1037.8,846 1038.4,854.7 1039,863.4C1039.6,872 1040.2,880.7 1040.8,889.4C1041.4,898.1 1041.9,908.5 1042.5,915.5C1043.1,922.4 1043.7,933.3 1044.3,931.1C1044.9,928.9 1045.5,911.6 1046.1,902.4C1046.7,893.3 1047.3,889.4 1047.9,876.4C1048.5,863.4 1049.1,837.3 1049.7,824.3C1050.2,811.2 1050.8,804.7 1051.4,798.2C1052,791.7 1052.6,789.5 1053.2,785.2C1053.8,780.8 1054.4,780.8 1055,772.1C1055.6,763.5 1056.2,741.7 1056.8,733C1057.4,724.4 1058,722.2 1058.6,720C1059.1,717.8 1059.7,715.7 1060.3,720C1060.9,724.4 1061.5,737.4 1062.1,746.1C1062.7,754.8 1063.3,772.1 1063.9,772.1C1064.5,772.1 1065.1,752.6 1065.7,746.1C1066.3,739.6 1066.9,733 1067.5,733C1068,733 1068.6,741.7 1069.2,746.1C1069.8,750.4 1070.4,756.9 1071,759.1C1071.6,761.3 1072.2,756.9 1072.8,759.1C1073.4,761.3 1074,765.6 1074.6,772.1C1075.2,778.7 1075.8,791.7 1076.3,798.2C1076.9,804.7 1077.5,806.9 1078.1,811.2C1078.7,815.6 1079.3,817.7 1079.9,824.3C1080.5,830.8 1081.1,846 1081.7,850.3C1082.3,854.7 1082.9,846 1083.5,850.3C1084.1,854.7 1084.7,869.9 1085.2,876.4C1085.8,882.9 1086.4,889.4 1087,889.4C1087.6,889.4 1088.2,887.2 1088.8,876.4C1089.4,865.5 1090,843.8 1090.6,824.3C1091.2,804.7 1091.8,774.3 1092.4,759.1C1093,743.9 1093.5,741.7 1094.1,733C1094.7,724.4 1095.3,717.8 1095.9,707C1096.5,696.1 1097.1,678.8 1097.7,667.9C1098.3,657 1098.9,650.5 1099.5,641.8C1100.1,633.2 1100.7,624.5 1101.3,615.8C1101.9,607.1 1102.4,598.4 1103,589.7C1103.6,581 1104.2,569.3 1104.8,563.7C1105.4,558 1106,555.8 1106.6,555.8C1107.2,555.8 1107.8,560.2 1108.4,563.7C1109,567.1 1109.6,572.3 1110.2,576.7C1110.8,581 1111.3,581 1111.9,589.7C1112.5,598.4 1113.1,620.1 1113.7,628.8C1114.3,637.5 1114.9,639.7 1115.5,641.8C1116.1,644 1116.7,644 1117.3,641.8C1117.9,639.7 1118.5,633.2 1119.1,628.8C1119.6,624.5 1120.2,618 1120.8,615.8C1121.4,613.6 1122,620.1 1122.6,615.8C1123.2,611.4 1123.8,596.2 1124.4,589.7C1125,583.2 1125.6,581 1126.2,576.7C1126.8,572.3 1127.4,565.8 1128,563.7C1128.5,561.5 1129.1,561.5 1129.7,563.7C1130.3,565.8 1130.9,568 1131.5,576.7C1132.1,585.4 1132.7,602.8 1133.3,615.8C1133.9,628.8 1134.5,641.8 1135.1,654.9C1135.7,667.9 1136.3,685.3 1136.9,694C1137.4,702.6 1138,704.8 1138.6,707C1139.2,709.2 1139.8,704.8 1140.4,707C1141,709.2 1141.6,717.8 1142.2,720C1142.8,722.2 1143.4,720 1144,720C1144.6,720 1145.2,722.2 1145.7,720C1146.3,717.8 1146.9,713.5 1147.5,707C1148.1,700.5 1148.7,687.4 1149.3,680.9C1149.9,674.4 1150.5,670.1 1151.1,667.9C1151.7,665.7 1152.3,670.1 1152.9,667.9C1153.5,665.7 1154.1,659.2 1154.6,654.9C1155.2,650.5 1155.8,646.2 1156.4,641.8C1157,637.5 1157.6,628.8 1158.2,628.8C1158.8,628.8 1159.4,636.4 1160,641.8C1160.6,647.3 1161.2,657.9 1161.8,661.4C1162.4,664.9 1162.9,665.9 1163.5,662.7C1164.1,659.4 1164.7,647.5 1165.3,641.8C1165.9,636.2 1166.5,635.3 1167.1,628.8C1167.7,622.3 1168.3,607.1 1168.9,602.8C1169.5,598.4 1170.1,605.6 1170.7,602.8C1171.3,599.9 1171.8,588.4 1172.4,585.8C1173,583.2 1173.6,584.3 1174.2,587.1C1174.8,589.9 1175.4,596.7 1176,602.8C1176.6,608.8 1177.2,621.4 1177.8,623.6C1178.4,625.8 1179,618.6 1179.6,615.8C1180.2,613 1180.7,608.2 1181.3,606.7C1181.9,605.1 1182.5,603 1183.1,606.7C1183.7,610.4 1184.3,618.6 1184.9,628.8C1185.5,639 1186.1,659.2 1186.7,667.9C1187.3,676.6 1187.9,680.9 1188.5,680.9C1189,680.9 1189.6,672.2 1190.2,667.9C1190.8,663.6 1191.4,654.9 1192,654.9C1192.6,654.9 1193.2,659.2 1193.8,667.9C1194.4,676.6 1195,696.1 1195.6,707C1196.2,717.8 1196.8,728.7 1197.4,733C1197.9,737.4 1198.5,735.2 1199.1,733C1199.7,730.9 1200.3,724.4 1200.9,720C1201.5,715.7 1202.1,709.2 1202.7,707C1203.3,704.8 1203.9,707 1204.5,707C1205.1,707 1205.7,709.2 1206.3,707C1206.8,704.8 1207.4,696.1 1208,694C1208.6,691.8 1209.2,695.3 1209.8,694C1210.4,692.7 1211,687.2 1211.6,686.1C1212.2,685.1 1212.8,688.7 1213.4,687.4C1214,686.1 1214.6,681.6 1215.1,678.3C1215.7,675.1 1216.3,671.8 1216.9,667.9C1217.5,664 1218.1,659.2 1218.7,654.9C1219.3,650.5 1219.9,650.5 1220.5,641.8C1221.1,633.2 1221.7,613.6 1222.3,602.8C1222.9,591.9 1223.5,581 1224,576.7C1224.6,572.3 1225.2,578.9 1225.8,576.7C1226.4,574.5 1227,572.3 1227.6,563.7C1228.2,555 1228.8,541.9 1229.4,524.6C1230,507.2 1230.6,479 1231.2,459.4C1231.8,439.9 1232.4,420.3 1232.9,407.3C1233.5,394.3 1234.1,385.6 1234.7,381.2C1235.3,376.9 1235.9,381.2 1236.5,381.2C1237.1,381.2 1237.7,374.7 1238.3,381.2C1238.9,387.8 1239.5,405.1 1240.1,420.3C1240.7,435.5 1241.2,459.4 1241.8,472.4C1242.4,485.5 1243,489.8 1243.6,498.5C1244.2,507.2 1244.8,511.5 1245.4,524.6C1246,537.6 1246.6,559.3 1247.2,576.7C1247.8,594.1 1248.4,611.4 1249,628.8C1249.6,646.2 1250.1,663.6 1250.7,680.9C1251.3,698.3 1251.9,717.8 1252.5,733C1253.1,748.3 1253.7,761.3 1254.3,772.1C1254.9,783 1255.5,796 1256.1,798.2C1256.7,800.4 1257.3,793.9 1257.9,785.2C1258.4,776.5 1259,756.9 1259.6,746.1C1260.2,735.2 1260.8,726.5 1261.4,720C1262,713.5 1262.6,707 1263.2,707C1263.8,707 1264.4,715.7 1265,720C1265.6,724.4 1266.2,733 1266.8,733C1267.3,733 1267.9,724.4 1268.5,720C1269.1,715.7 1269.7,711.3 1270.3,707C1270.9,702.6 1271.5,696.1 1272.1,694C1272.7,691.8 1273.3,685.3 1273.9,694C1274.5,702.6 1275.1,730.9 1275.7,746.1C1276.2,761.3 1276.8,774.3 1277.4,785.2C1278,796 1278.6,809.1 1279.2,811.2C1279.8,813.4 1280.4,804.7 1281,798.2C1281.6,791.7 1282.2,776.5 1282.8,772.1C1283.4,767.8 1284,772.1 1284.5,772.1C1285.1,772.1 1285.7,772.1 1286.3,772.1C1286.9,772.1 1287.5,776.5 1288.1,772.1C1288.7,767.8 1289.3,752.6 1289.9,746.1C1290.5,739.6 1291.1,735.2 1291.7,733C1292.3,730.9 1292.9,735.2 1293.4,733C1294,730.9 1294.6,724.4 1295.2,720C1295.8,715.7 1296.4,709.2 1297,707C1297.6,704.8 1298.2,704.8 1298.8,707C1299.4,709.2 1300,715.7 1300.6,720C1301.2,724.4 1301.8,730.9 1302.3,733C1302.9,735.2 1303.5,737.4 1304.1,733C1304.7,728.7 1305.3,713.5 1305.9,707C1306.5,700.5 1307.1,698.3 1307.7,694C1308.3,689.6 1308.9,685.3 1309.5,680.9C1310.1,676.6 1310.6,674.4 1311.2,667.9C1311.8,661.4 1312.4,650.5 1313,641.8C1313.6,633.2 1314.2,626.6 1314.8,615.8C1315.4,604.9 1316,587.5 1316.6,576.7C1317.2,565.8 1317.8,559.3 1318.4,550.6C1319,541.9 1319.5,531.1 1320.1,524.6C1320.7,518.1 1321.3,514.4 1321.9,511.5C1322.5,508.7 1323.1,508.1 1323.7,507.6C1324.3,507.2 1324.9,506.1 1325.5,508.9C1326.1,511.8 1326.7,518.7 1327.3,524.6C1327.9,530.4 1328.4,541.9 1329,544.1C1329.6,546.3 1330.2,543 1330.8,537.6C1331.4,532.2 1332,522.4 1332.6,511.5C1333.2,500.7 1333.8,483.3 1334.4,472.4C1335,461.6 1335.6,449.6 1336.2,446.4C1336.7,443.1 1337.3,448.6 1337.9,452.9C1338.5,457.2 1339.1,464.8 1339.7,472.4C1340.3,480.1 1340.9,489.8 1341.5,498.5C1342.1,507.2 1342.7,513.7 1343.3,524.6C1343.9,535.4 1344.5,550.6 1345.1,563.7C1345.6,576.7 1346.2,587.5 1346.8,602.8C1347.4,618 1348,637.5 1348.6,654.9C1349.2,672.2 1349.8,685.3 1350.4,707C1351,728.7 1351.6,763.5 1352.2,785.2C1352.8,806.9 1353.4,828.6 1353.9,837.3C1354.5,846 1355.1,841.6 1355.7,837.3C1356.3,832.9 1356.9,813.4 1357.5,811.2C1358.1,809.1 1358.7,815.6 1359.3,824.3C1359.9,832.9 1360.5,850.3 1361.1,863.4C1361.7,876.4 1362.3,895.9 1362.8,902.4C1363.4,909 1364,904.6 1364.6,902.4C1365.2,900.3 1365.8,898.1 1366.4,889.4C1367,880.7 1367.6,863.3 1368.2,850.3C1368.8,837.3 1369.4,824.3 1370,811.2C1370.6,798.2 1371.2,783 1371.7,772.1C1372.3,761.3 1372.9,754.8 1373.5,746.1C1374.1,737.4 1374.7,726.5 1375.3,720C1375.9,713.5 1376.5,709.2 1377.1,707C1377.7,704.8 1378.3,709.2 1378.9,707C1379.5,704.8 1380,696.1 1380.6,694C1381.2,691.8 1381.8,694 1382.4,694C1383,694 1383.6,696.1 1384.2,694C1384.8,691.8 1385.4,687.4 1386,680.9C1386.6,674.4 1387.2,661.4 1387.8,654.9C1388.4,648.4 1388.9,646.2 1389.5,641.8C1390.1,637.5 1390.7,631 1391.3,628.8C1391.9,626.6 1392.5,628.8 1393.1,628.8C1393.7,628.8 1394.3,628.8 1394.9,628.8C1395.5,628.8 1396.1,628.8 1396.7,628.8C1397.3,628.8 1397.8,631 1398.4,628.8C1399,626.6 1399.6,618 1400.2,615.8C1400.8,613.6 1401.4,614.7 1402,615.8C1402.6,616.9 1403.2,622.3 1403.8,622.3C1404.4,622.3 1405,616.9 1405.6,615.8C1406.1,614.7 1406.7,615.8 1407.3,615.8C1407.9,615.8 1408.5,613.6 1409.1,615.8C1409.7,618 1410.3,624.5 1410.9,628.8C1411.5,633.2 1412.1,641.8 1412.7,641.8C1413.3,641.8 1413.9,635.3 1414.5,628.8C1415,622.3 1415.6,609.3 1416.2,602.8C1416.8,596.2 1417.4,594.7 1418,589.7C1418.6,584.7 1419.2,573.4 1419.8,572.8C1420.4,572.1 1421,583.6 1421.6,585.8C1422.2,588 1422.8,589.5 1423.4,585.8C1423.9,582.1 1424.5,576 1425.1,563.7C1425.7,551.3 1426.3,526.7 1426.9,511.5C1427.5,496.3 1428.1,483.3 1428.7,472.4C1429.3,461.6 1429.9,448.6 1430.5,446.4C1431.1,444.2 1431.7,455.1 1432.2,459.4C1432.8,463.8 1433.4,465.9 1434,472.4C1434.6,479 1435.2,489.8 1435.8,498.5C1436.4,507.2 1437,511.5 1437.6,524.6C1438.2,537.6 1438.8,561.5 1439.4,576.7C1440,591.9 1440.6,602.8 1441.1,615.8C1441.7,628.8 1442.3,644 1442.9,654.9C1443.5,665.7 1444.1,674.4 1444.7,680.9C1445.3,687.4 1445.9,689.6 1446.5,694C1447.1,698.3 1447.7,709.2 1448.3,707C1448.9,704.8 1449.4,689.6 1450,680.9C1450.6,672.2 1451.2,663.6 1451.8,654.9C1452.4,646.2 1453,637.5 1453.6,628.8C1454.2,620.1 1454.8,611.4 1455.4,602.8C1456,594.1 1456.6,581 1457.2,576.7C1457.8,572.3 1458.3,574.5 1458.9,576.7C1459.5,578.9 1460.1,581 1460.7,589.7C1461.3,598.4 1461.9,622.3 1462.5,628.8C1463.1,635.3 1463.7,626.6 1464.3,628.8C1464.9,631 1465.5,637.5 1466.1,641.8C1466.7,646.2 1467.2,651.4 1467.8,654.9C1468.4,658.3 1469,661.6 1469.6,662.7C1470.2,663.8 1470.8,661.8 1471.4,661.4C1472,661 1472.6,660.7 1473.2,660.1C1473.8,659.4 1474.4,660.5 1475,657.5C1475.5,654.4 1476.1,646.6 1476.7,641.8C1477.3,637.1 1477.9,633.2 1478.5,628.8C1479.1,624.5 1479.7,618 1480.3,615.8C1480.9,613.6 1481.5,615.8 1482.1,615.8C1482.7,615.8 1483.3,615.8 1483.9,615.8C1484.4,615.8 1485,620.1 1485.6,615.8C1486.2,611.4 1486.8,596.2 1487.4,589.7C1488,583.2 1488.6,585.4 1489.2,576.7C1489.8,568 1490.4,546.3 1491,537.6C1491.6,528.9 1492.2,524.6 1492.8,524.6C1493.3,524.6 1493.9,528.9 1494.5,537.6C1495.1,546.3 1495.7,565.8 1496.3,576.7C1496.9,587.5 1497.5,594.1 1498.1,602.8C1498.7,611.4 1499.3,620.1 1499.9,628.8C1500.5,637.5 1501.1,648.4 1501.6,654.9C1502.2,661.4 1502.8,661.4 1503.4,667.9C1504,674.4 1504.6,683.1 1505.2,694C1505.8,704.8 1506.4,720 1507,733C1507.6,746.1 1508.2,761.3 1508.8,772.1C1509.4,783 1510,793.9 1510.5,798.2C1511.1,802.5 1511.7,798.2 1512.3,798.2C1512.9,798.2 1513.5,800.4 1514.1,798.2C1514.7,796 1515.3,789.5 1515.9,785.2C1516.5,780.8 1517.1,778.7 1517.7,772.1C1518.3,765.6 1518.8,754.8 1519.4,746.1C1520,737.4 1520.6,726.5 1521.2,720C1521.8,713.5 1522.4,709.2 1523,707C1523.6,704.8 1524.2,707 1524.8,707C1525.4,707 1526,707 1526.6,707C1527.2,707 1527.7,704.8 1528.3,707C1528.9,709.2 1529.5,717.8 1530.1,720C1530.7,722.2 1531.3,720 1531.9,720C1532.5,720 1533.1,717.8 1533.7,720C1534.3,722.2 1534.9,730.9 1535.5,733C1536.1,735.2 1536.6,735.2 1537.2,733C1537.8,730.9 1538.4,728.7 1539,720C1539.6,711.3 1540.2,696.1 1540.8,680.9C1541.4,665.7 1542,648.4 1542.6,628.8C1543.2,609.3 1543.8,583.2 1544.4,563.7C1544.9,544.1 1545.5,528.9 1546.1,511.5C1546.7,494.2 1547.3,474.6 1547.9,459.4C1548.5,444.2 1549.1,431.2 1549.7,420.3C1550.3,409.5 1550.9,403 1551.5,394.3C1552.1,385.6 1552.7,374.5 1553.3,368.2C1553.8,361.9 1554.4,358.4 1555,356.5C1555.6,354.5 1556.2,352.4 1556.8,356.5C1557.4,360.6 1558,370.6 1558.6,381.2C1559.2,391.9 1559.8,403 1560.4,420.3C1561,437.7 1561.6,465.9 1562.2,485.5C1562.7,505 1563.3,518.1 1563.9,537.6C1564.5,557.1 1565.1,578.9 1565.7,602.8C1566.3,626.6 1566.9,652.7 1567.5,680.9C1568.1,709.2 1568.7,750.4 1569.3,772.1C1569.9,793.9 1570.5,800.4 1571,811.2C1571.6,822.1 1572.2,830.8 1572.8,837.3C1573.4,843.8 1574,846 1574.6,850.3C1575.2,854.7 1575.8,859.7 1576.4,863.4C1577,867 1577.6,872.5 1578.2,872.5C1578.8,872.5 1579.4,869.2 1579.9,863.4C1580.5,857.5 1581.1,846 1581.7,837.3C1582.3,828.6 1582.9,817.7 1583.5,811.2C1584.1,804.7 1584.7,800.4 1585.3,798.2C1585.9,796 1586.5,798.2 1587.1,798.2C1587.7,798.2 1588.3,796 1588.8,798.2C1589.4,800.4 1590,809.1 1590.6,811.2C1591.2,813.4 1591.8,809.1 1592.4,811.2C1593,813.4 1593.6,819.9 1594.2,824.3C1594.8,828.6 1595.4,830.8 1596,837.3C1596.6,843.8 1597.1,856 1597.7,863.4C1598.3,870.7 1598.9,878.6 1599.5,881.6C1600.1,884.6 1600.7,886.8 1601.3,881.6C1601.9,876.4 1602.5,862 1603.1,850.3C1603.7,838.6 1604.3,823.4 1604.9,811.2C1605.5,799.1 1606,785.4 1606.6,777.4C1607.2,769.3 1607.8,767.1 1608.4,763C1609,758.9 1609.6,756.1 1610.2,752.6C1610.8,749.1 1611.4,745.2 1612,742.2C1612.6,739.1 1613.2,735.2 1613.8,734.4C1614.3,733.5 1614.9,734.6 1615.5,737C1616.1,739.3 1616.7,744.3 1617.3,748.7C1617.9,753 1618.5,760.2 1619.1,763C1619.7,765.8 1620.3,766.3 1620.9,765.6C1621.5,765 1622.1,764.5 1622.7,759.1C1623.2,753.7 1623.8,739.6 1624.4,733C1625,726.5 1625.6,724.4 1626.2,720C1626.8,715.7 1627.4,709.2 1628,707C1628.6,704.8 1629.2,711.3 1629.8,707C1630.4,702.6 1631,685.3 1631.6,680.9C1632.1,676.6 1632.7,680.9 1633.3,680.9C1633.9,680.9 1634.5,678.8 1635.1,680.9C1635.7,683.1 1636.3,689.6 1636.9,694C1637.5,698.3 1638.1,704.8 1638.7,707C1639.3,709.2 1639.9,707 1640.4,707C1641,707 1641.6,711.3 1642.2,707C1642.8,702.6 1643.4,687.4 1644,680.9C1644.6,674.4 1645.2,672.2 1645.8,667.9C1646.4,663.6 1647,659.2 1647.6,654.9C1648.2,650.5 1648.8,648.4 1649.3,641.8C1649.9,635.3 1650.5,626.6 1651.1,615.8C1651.7,604.9 1652.3,585.4 1652.9,576.7C1653.5,568 1654.1,568 1654.7,563.7C1655.3,559.3 1655.9,555 1656.5,550.6C1657.1,546.3 1657.7,544.1 1658.2,537.6C1658.8,531.1 1659.4,518.1 1660,511.5C1660.6,505 1661.2,496.3 1661.8,498.5C1662.4,500.7 1663,515.9 1663.6,524.6C1664.2,533.3 1664.8,539.8 1665.4,550.6C1666,561.5 1666.5,578.9 1667.1,589.7C1667.7,600.6 1668.3,602.8 1668.9,615.8C1669.5,628.8 1670.1,653.6 1670.7,667.9C1671.3,682.2 1671.9,697.4 1672.5,701.8C1673.1,706.1 1673.7,701.8 1674.3,694C1674.9,686.1 1675.4,663.6 1676,654.9C1676.6,646.2 1677.2,646.2 1677.8,641.8C1678.4,637.5 1679,631 1679.6,628.8C1680.2,626.6 1680.8,630.3 1681.4,628.8C1682,627.3 1682.6,621.2 1683.2,619.7C1683.8,618.2 1684.3,619.5 1684.9,619.7C1685.5,619.9 1686.1,619.5 1686.7,621C1687.3,622.5 1687.9,624.9 1688.5,628.8C1689.1,632.7 1689.7,641.6 1690.3,644.4C1690.9,647.3 1691.5,645.7 1692.1,645.7C1692.6,645.7 1693.2,647.3 1693.8,644.4C1694.4,641.6 1695,635.8 1695.6,628.8C1696.2,621.9 1696.8,609.3 1697.4,602.8C1698,596.2 1698.6,594.1 1699.2,589.7C1699.8,585.4 1700.4,578.9 1701,576.7C1701.5,574.5 1702.1,576.7 1702.7,576.7C1703.3,576.7 1703.9,576.7 1704.5,576.7C1705.1,576.7 1705.7,574.5 1706.3,576.7C1706.9,578.9 1707.5,587.5 1708.1,589.7C1708.7,591.9 1709.3,585.4 1709.8,589.7C1710.4,594.1 1711,611.4 1711.6,615.8C1712.2,620.1 1712.8,613.6 1713.4,615.8C1714,618 1714.6,622.3 1715.2,628.8C1715.8,635.3 1716.4,646.2 1717,654.9C1717.6,663.6 1718.2,676.6 1718.7,680.9C1719.3,685.3 1719.9,680.9 1720.5,680.9C1721.1,680.9 1721.7,676.6 1722.3,680.9C1722.9,685.3 1723.5,696.1 1724.1,707C1724.7,717.8 1725.3,735.2 1725.9,746.1C1726.5,756.9 1727.1,766.7 1727.6,772.1C1728.2,777.6 1728.8,778.7 1729.4,778.7C1730,778.7 1730.6,777.6 1731.2,772.1C1731.8,766.7 1732.4,754.8 1733,746.1C1733.6,737.4 1734.2,730.9 1734.8,720C1735.4,709.2 1735.9,689.6 1736.5,680.9C1737.1,672.2 1737.7,672.2 1738.3,667.9C1738.9,663.6 1739.5,661.4 1740.1,654.9C1740.7,648.4 1741.3,637.5 1741.9,628.8C1742.5,620.1 1743.1,613.6 1743.7,602.8C1744.3,591.9 1744.8,573.2 1745.4,563.7C1746,554.1 1746.6,548.5 1747.2,545.4C1747.8,542.4 1748.4,540.2 1749,545.4C1749.6,550.6 1750.2,560.6 1750.8,576.7C1751.4,592.8 1752,624.5 1752.6,641.8C1753.2,659.2 1753.7,670.1 1754.3,680.9C1754.9,691.8 1755.5,700.5 1756.1,707C1756.7,713.5 1757.3,715.7 1757.9,720C1758.5,724.4 1759.1,728.7 1759.7,733C1760.3,737.4 1760.9,739.6 1761.5,746.1C1762,752.6 1762.6,761.3 1763.2,772.1C1763.8,783 1764.4,800.4 1765,811.2C1765.6,822.1 1766.2,828.6 1766.8,837.3C1767.4,846 1768,856.4 1768.6,863.4C1769.2,870.3 1769.8,875.9 1770.4,879C1770.9,882 1771.5,884.2 1772.1,881.6C1772.7,879 1773.3,870.7 1773.9,863.4C1774.5,856 1775.1,848.1 1775.7,837.3C1776.3,826.4 1776.9,809.1 1777.5,798.2C1778.1,787.3 1778.7,780.8 1779.2,772.1C1779.8,763.5 1780.4,754.8 1781,746.1C1781.6,737.4 1782.2,728.3 1782.8,720C1783.4,711.8 1784,700.5 1784.6,696.6C1785.2,692.7 1785.8,692.7 1786.4,696.6C1787,700.5 1787.6,711.8 1788.1,720C1788.7,728.3 1789.3,739.6 1789.9,746.1C1790.5,752.6 1791.1,753.9 1791.7,759.1C1792.3,764.3 1792.9,774.5 1793.5,777.4C1794.1,780.2 1794.7,781.3 1795.3,776C1795.9,770.8 1796.5,757.6 1797,746.1C1797.6,734.6 1798.2,720 1798.8,707C1799.4,694 1800,680.9 1800.6,667.9C1801.2,654.9 1801.8,639.7 1802.4,628.8C1803,618 1803.6,609.3 1804.2,602.8C1804.8,596.2 1805.3,594.1 1805.9,589.7C1806.5,585.4 1807.1,585.4 1807.7,576.7C1808.3,568 1808.9,552.8 1809.5,537.6C1810.1,522.4 1810.7,497.6 1811.3,485.5C1811.9,473.3 1812.5,466.8 1813.1,464.6C1813.7,462.5 1814.2,464.6 1814.8,472.4C1815.4,480.3 1816,496.3 1816.6,511.5C1817.2,526.7 1817.8,546.3 1818.4,563.7C1819,581 1819.6,594.1 1820.2,615.8C1820.8,637.5 1821.4,670.1 1822,694C1822.6,717.8 1823.1,741.7 1823.7,759.1C1824.3,776.5 1824.9,785.2 1825.5,798.2C1826.1,811.2 1826.7,824.7 1827.3,837.3C1827.9,849.9 1828.5,866.4 1829.1,873.8C1829.7,881.2 1830.3,880.3 1830.9,881.6C1831.4,882.9 1832,882.9 1832.6,881.6C1833.2,880.3 1833.8,879 1834.4,873.8C1835,868.6 1835.6,858.6 1836.2,850.3C1836.8,842.1 1837.4,835.1 1838,824.3C1838.6,813.4 1839.2,796 1839.8,785.2C1840.3,774.3 1840.9,765.6 1841.5,759.1C1842.1,752.6 1842.7,751.9 1843.3,746.1C1843.9,740.2 1844.5,726.1 1845.1,723.9C1845.7,721.8 1846.3,729.4 1846.9,733C1847.5,736.7 1848.1,739.6 1848.7,746.1C1849.2,752.6 1849.8,763.5 1850.4,772.1C1851,780.8 1851.6,791.7 1852.2,798.2C1852.8,804.7 1853.4,811.2 1854,811.2C1854.6,811.2 1855.2,802.5 1855.8,798.2C1856.4,793.9 1857,791.7 1857.5,785.2C1858.1,778.7 1858.7,765.6 1859.3,759.1C1859.9,752.6 1860.5,750.4 1861.1,746.1C1861.7,741.7 1862.3,739.6 1862.9,733C1863.5,726.5 1864.1,717.8 1864.7,707C1865.3,696.1 1865.9,678.8 1866.4,667.9C1867,657 1867.6,649.9 1868.2,641.8C1868.8,633.8 1869.4,623.4 1870,619.7C1870.6,616 1871.2,618.2 1871.8,619.7C1872.4,621.2 1873,622.9 1873.6,628.8C1874.2,634.7 1874.7,644 1875.3,654.9C1875.9,665.7 1876.5,683.1 1877.1,694C1877.7,704.8 1878.3,715.7 1878.9,720C1879.5,724.4 1880.1,722.2 1880.7,720C1881.3,717.8 1881.9,709.2 1882.5,707C1883.1,704.8 1883.6,704.8 1884.2,707C1884.8,709.2 1885.4,717.8 1886,720C1886.6,722.2 1887.2,720 1887.8,720C1888.4,720 1889,722.2 1889.6,720C1890.2,717.8 1890.8,709.2 1891.4,707C1892,704.8 1892.5,709.2 1893.1,707C1893.7,704.8 1894.3,696.1 1894.9,694C1895.5,691.8 1896.1,691.8 1896.7,694C1897.3,696.1 1897.9,702.6 1898.5,707C1899.1,711.3 1899.7,715.7 1900.3,720C1900.8,724.4 1901.4,735.2 1902,733C1902.6,730.9 1903.2,717.8 1903.8,707C1904.4,696.1 1905,678.8 1905.6,667.9C1906.2,657 1906.8,646.2 1907.4,641.8C1908,637.5 1908.6,638.4 1909.2,641.8C1909.7,645.3 1910.3,660.5 1910.9,662.7C1911.5,664.9 1912.1,658.3 1912.7,654.9C1913.3,651.4 1913.9,650.5 1914.5,641.8C1915.1,633.2 1915.7,611.4 1916.3,602.8C1916.9,594.1 1917.5,593.2 1918.1,589.7C1918.6,586.2 1919.2,579.7 1919.8,581.9C1920.4,584.1 1921,599.3 1921.6,602.8C1922.2,606.2 1922.8,602.8 1923.4,602.8C1924,602.8 1924.6,607.1 1925.2,602.8C1925.8,598.4 1926.4,585.4 1926.9,576.7C1927.5,568 1928.1,561.5 1928.7,550.6C1929.3,539.8 1929.9,524.6 1930.5,511.5C1931.1,498.5 1931.7,487.7 1932.3,472.4C1932.9,457.2 1933.5,435.5 1934.1,420.3C1934.7,405.1 1935.3,392.1 1935.8,381.2C1936.4,370.4 1937,364.4 1937.6,355.2C1938.2,346 1938.8,330.7 1939.4,325.9C1940,321 1940.6,323.1 1941.2,325.9C1941.8,328.6 1942.4,330.7 1943,342.1C1943.6,353.6 1944.2,374.7 1944.7,394.3C1945.3,413.8 1945.9,433.4 1946.5,459.4C1947.1,485.5 1947.7,524.6 1948.3,550.6C1948.9,576.7 1949.5,594.1 1950.1,615.8C1950.7,637.5 1951.3,663.6 1951.9,680.9C1952.5,698.3 1953,711.3 1953.6,720C1954.2,728.7 1954.8,728.7 1955.4,733C1956,737.4 1956.6,741.7 1957.2,746.1C1957.8,750.4 1958.4,756.9 1959,759.1C1959.6,761.3 1960.2,761.3 1960.8,759.1C1961.4,756.9 1961.9,754.8 1962.5,746.1C1963.1,737.4 1963.7,715.7 1964.3,707C1964.9,698.3 1965.5,702.6 1966.1,694C1966.7,685.3 1967.3,663.6 1967.9,654.9C1968.5,646.2 1969.1,646.2 1969.7,641.8C1970.2,637.5 1970.8,631 1971.4,628.8C1972,626.6 1972.6,624.5 1973.2,628.8C1973.8,633.2 1974.4,646.2 1975,654.9C1975.6,663.6 1976.2,670.1 1976.8,680.9C1977.4,691.8 1978,707 1978.6,720C1979.1,733 1979.7,750.4 1980.3,759.1C1980.9,767.8 1981.5,766.3 1982.1,772.1C1982.7,778 1983.3,791.5 1983.9,794.3C1984.5,797.1 1985.1,791.7 1985.7,789.1C1986.3,786.5 1986.9,783.6 1987.5,778.7C1988,773.7 1988.6,766.7 1989.2,759.1C1989.8,751.5 1990.4,743.9 1991,733C1991.6,722.2 1992.2,704.8 1992.8,694C1993.4,683.1 1994,674.4 1994.6,667.9C1995.2,661.4 1995.8,659.2 1996.3,654.9C1996.9,650.5 1997.5,650.5 1998.1,641.8C1998.7,633.2 1999.3,615.8 1999.9,602.8C2000.5,589.7 2001.1,572.3 2001.7,563.7C2002.3,555 2002.9,550.6 2003.5,550.6C2004.1,550.6 2004.7,559.3 2005.2,563.7C2005.8,568 2006.4,574.5 2007,576.7C2007.6,578.9 2008.2,576.7 2008.8,576.7C2009.4,576.7 2010,576.7 2010.6,576.7C2011.2,576.7 2011.8,572.3 2012.4,576.7C2013,581 2013.6,598.4 2014.1,602.8C2014.7,607.1 2015.3,598.4 2015.9,602.8C2016.5,607.1 2017.1,621 2017.7,628.8C2018.3,636.6 2018.9,647.5 2019.5,649.7C2020.1,651.8 2020.7,645.3 2021.3,641.8C2021.9,638.4 2022.4,635.3 2023,628.8C2023.6,622.3 2024.2,608 2024.8,602.8C2025.4,597.5 2026,598.6 2026.6,597.5C2027.2,596.5 2027.8,595.8 2028.4,596.2C2029,596.7 2029.6,596.9 2030.2,600.1C2030.8,603.4 2031.3,608.8 2031.9,615.8C2032.5,622.7 2033.1,631 2033.7,641.8C2034.3,652.7 2034.9,670.1 2035.5,680.9C2036.1,691.8 2036.7,700.5 2037.3,707C2037.9,713.5 2038.5,713.5 2039.1,720C2039.7,726.5 2040.2,735.2 2040.8,746.1C2041.4,756.9 2042,772.1 2042.6,785.2C2043.2,798.2 2043.8,816.2 2044.4,824.3C2045,832.3 2045.6,833.4 2046.2,833.4C2046.8,833.4 2047.4,830.1 2048,824.3C2048.5,818.4 2049.1,804.7 2049.7,798.2C2050.3,791.7 2050.9,789.5 2051.5,785.2C2052.1,780.8 2052.7,776.5 2053.3,772.1C2053.9,767.8 2054.5,765.6 2055.1,759.1C2055.7,752.6 2056.3,739.6 2056.9,733C2057.4,726.5 2058,722.2 2058.6,720C2059.2,717.8 2059.8,717.8 2060.4,720C2061,722.2 2061.6,726.5 2062.2,733C2062.8,739.6 2063.4,752.6 2064,759.1C2064.6,765.6 2065.2,765.6 2065.7,772.1C2066.3,778.7 2066.9,793.9 2067.5,798.2C2068.1,802.5 2068.7,798.2 2069.3,798.2C2069.9,798.2 2070.5,799.5 2071.1,798.2C2071.7,796.9 2072.3,790.4 2072.9,790.4C2073.5,790.4 2074.1,795.6 2074.6,798.2C2075.2,800.8 2075.8,806 2076.4,806C2077,806 2077.6,801.7 2078.2,798.2C2078.8,794.7 2079.4,789.5 2080,785.2C2080.6,780.8 2081.2,772.1 2081.8,772.1C2082.4,772.1 2083,780.8 2083.5,785.2C2084.1,789.5 2084.7,796 2085.3,798.2C2085.9,800.4 2086.5,800.4 2087.1,798.2C2087.7,796 2088.3,789.5 2088.9,785.2C2089.5,780.8 2090.1,776.5 2090.7,772.1C2091.3,767.8 2091.8,767.8 2092.4,759.1C2093,750.4 2093.6,733 2094.2,720C2094.8,707 2095.4,692.7 2096,680.9C2096.6,669.2 2097.5,654.9 2097.8,649.7" fill="none" stroke="#d2d2d2" stroke-width="1.75" stroke-linejoin="round" stroke-linecap="round"/>
<text x="668.51" y="423.6" font-size="27.8" fill="#a6a6a6" textLength="69.47" lengthAdjust="spacingAndGlyphs">57-58</text>
<text x="988.42" y="388.2" font-size="27.8" fill="#a6a6a6" textLength="68.86" lengthAdjust="spacingAndGlyphs">72-73</text>
<text x="1202.13" y="372" font-size="27.8" fill="#a6a6a6" textLength="68.96" lengthAdjust="spacingAndGlyphs">82-83</text>
<text x="1520.13" y="351.6" font-size="27.8" fill="#a6a6a6" textLength="69.45" lengthAdjust="spacingAndGlyphs">97-98</text>
<text x="1859.03" y="347.3" font-size="27.8" fill="#a6a6a6" textLength="69.67" lengthAdjust="spacingAndGlyphs">15-16</text>
<line x1="533.6" y1="977" x2="533.6" y2="984" stroke="#a0a0a0" stroke-width="1.6"/>
<line x1="640.4" y1="977" x2="640.4" y2="984" stroke="#a0a0a0" stroke-width="1.6"/>
<line x1="747.1" y1="977" x2="747.1" y2="990" stroke="#a0a0a0" stroke-width="1.6"/>
<line x1="853.9" y1="977" x2="853.9" y2="984" stroke="#a0a0a0" stroke-width="1.6"/>
<line x1="960.7" y1="977" x2="960.7" y2="984" stroke="#a0a0a0" stroke-width="1.6"/>
<line x1="1067.5" y1="977" x2="1067.5" y2="984" stroke="#a0a0a0" stroke-width="1.6"/>
<line x1="1174.2" y1="977" x2="1174.2" y2="990" stroke="#a0a0a0" stroke-width="1.6"/>
<line x1="1281" y1="977" x2="1281" y2="984" stroke="#a0a0a0" stroke-width="1.6"/>
<line x1="1387.8" y1="977" x2="1387.8" y2="984" stroke="#a0a0a0" stroke-width="1.6"/>
<line x1="1494.5" y1="977" x2="1494.5" y2="984" stroke="#a0a0a0" stroke-width="1.6"/>
<line x1="1601.3" y1="977" x2="1601.3" y2="990" stroke="#a0a0a0" stroke-width="1.6"/>
<line x1="1708.1" y1="977" x2="1708.1" y2="984" stroke="#a0a0a0" stroke-width="1.6"/>
<line x1="1814.8" y1="977" x2="1814.8" y2="984" stroke="#a0a0a0" stroke-width="1.6"/>
<line x1="1921.6" y1="977" x2="1921.6" y2="984" stroke="#a0a0a0" stroke-width="1.6"/>
<line x1="2028.4" y1="977" x2="2028.4" y2="990" stroke="#a0a0a0" stroke-width="1.6"/>
<line x1="2135.2" y1="977" x2="2135.2" y2="984" stroke="#a0a0a0" stroke-width="1.6"/>
<text x="501.48" y="1025" font-size="25.6" fill="#c4c4c4" textLength="62.01" lengthAdjust="spacingAndGlyphs">1950</text>
<text x="715.02" y="1025" font-size="25.6" fill="#c4c4c4" textLength="62.01" lengthAdjust="spacingAndGlyphs">1960</text>
<text x="928.56" y="1025" font-size="25.6" fill="#c4c4c4" textLength="62.01" lengthAdjust="spacingAndGlyphs">1970</text>
<text x="1142.10" y="1025" font-size="25.6" fill="#c4c4c4" textLength="62.01" lengthAdjust="spacingAndGlyphs">1980</text>
<text x="1355.64" y="1025" font-size="25.6" fill="#c4c4c4" textLength="62.01" lengthAdjust="spacingAndGlyphs">1990</text>
<text x="1569.92" y="1025" font-size="25.6" fill="#c4c4c4" textLength="61.26" lengthAdjust="spacingAndGlyphs">2000</text>
<text x="1783.46" y="1025" font-size="25.6" fill="#c4c4c4" textLength="61.26" lengthAdjust="spacingAndGlyphs">2010</text>
<text x="1997.00" y="1025" font-size="25.6" fill="#c4c4c4" textLength="61.26" lengthAdjust="spacingAndGlyphs">2020</text>
<defs><clipPath id="mapclip"><rect x="1920.4" y="47.8" width="409.1" height="187.5"/></clipPath>
<filter id="b1" x="-50%" y="-50%" width="200%" height="200%"><feGaussianBlur stdDeviation="8"/></filter>
<filter id="b2" x="-50%" y="-50%" width="200%" height="200%"><feGaussianBlur stdDeviation="4"/></filter><filter id="b3" x="-50%" y="-50%" width="200%" height="200%"><feGaussianBlur stdDeviation="2.2"/></filter></defs>
<g clip-path="url(#mapclip)">
<rect x="1920.4" y="47.8" width="409.1" height="187.5" fill="#f8f4f2"/>
<g filter="url(#b1)"><ellipse cx="1933.9" cy="121.4" rx="26.3" ry="18.3" fill="#fcd2bc" opacity="1.0"/><ellipse cx="1967.3" cy="128.5" rx="17.5" ry="15.9" fill="#fddccc" opacity="0.9"/><ellipse cx="2025.4" cy="124.5" rx="35.8" ry="18.3" fill="#fcd4bf" opacity="0.95"/><ellipse cx="2029.4" cy="100.7" rx="19.9" ry="9.5" fill="#fde5da" opacity="0.8"/><ellipse cx="2014.3" cy="94.3" rx="7.2" ry="11.1" fill="#eef3f7" opacity="0.9"/><ellipse cx="2089.8" cy="68.1" rx="33.4" ry="11.1" fill="#fcd9c8" opacity="0.95"/><ellipse cx="2049.3" cy="83.2" rx="15.9" ry="9.5" fill="#f6b595" opacity="0.8"/><ellipse cx="2093.8" cy="84.8" rx="49.3" ry="13.5" fill="#f8c3a8" opacity="0.8"/><ellipse cx="2145.5" cy="64.9" rx="23.9" ry="8.8" fill="#f4f6f8" opacity="0.9"/><ellipse cx="2171.7" cy="94.3" rx="18.3" ry="26.3" fill="#dde9f2" opacity="0.95" transform="rotate(25 2171.7 94.3)"/><ellipse cx="2077.9" cy="128.5" rx="33.4" ry="14.3" fill="#fcd8c6" opacity="0.9"/><ellipse cx="2089.8" cy="108.6" rx="39.8" ry="7.2" fill="#f8f4f2" opacity="0.7"/><ellipse cx="2293.4" cy="76.8" rx="31.8" ry="13.5" fill="#f9f0ea" opacity="0.9"/><ellipse cx="2323.6" cy="64.9" rx="11.1" ry="20.7" fill="#fbcfba" opacity="0.9"/><ellipse cx="2281.5" cy="110.2" rx="47.7" ry="15.9" fill="#fcd4c0" opacity="0.95"/><ellipse cx="2321.3" cy="107" rx="13.5" ry="16.7" fill="#f29d76" opacity="0.95"/><ellipse cx="2194.8" cy="112.6" rx="11.1" ry="14.3" fill="#eef3f7" opacity="0.9"/><ellipse cx="2213.9" cy="134.1" rx="26.3" ry="9.5" fill="#f9c6ab" opacity="0.9"/><ellipse cx="2209.9" cy="149" rx="34.2" ry="15.9" fill="#f6ad8b" opacity="1.0"/><ellipse cx="2217.8" cy="176.8" rx="33.4" ry="8.8" fill="#fcd8c6" opacity="0.9"/><ellipse cx="2217.8" cy="196.7" rx="31.8" ry="8" fill="#f8f4f1" opacity="0.8"/><ellipse cx="2205.9" cy="233.3" rx="47.7" ry="15.1" fill="#b8d7ec" opacity="1.0"/><ellipse cx="2297.4" cy="201.5" rx="33.4" ry="13.5" fill="#fac6ad" opacity="1.0"/><ellipse cx="2313.3" cy="160.9" rx="18.3" ry="19.9" fill="#fbe6dc" opacity="0.8"/><ellipse cx="2293.4" cy="230.1" rx="35.8" ry="8.8" fill="#f1f4f7" opacity="0.9"/><ellipse cx="1953.8" cy="145.8" rx="47.7" ry="9.5" fill="#fcd8c6" opacity="0.95"/><ellipse cx="1949.8" cy="164.9" rx="30.2" ry="11.1" fill="#f6f3f2" opacity="0.85"/><ellipse cx="1949.8" cy="191.9" rx="23.9" ry="10.3" fill="#fcc4a5" opacity="0.95"/><ellipse cx="1989.6" cy="224.5" rx="71.6" ry="12.7" fill="#f6f6f6" opacity="0.9"/><ellipse cx="2037.3" cy="145.8" rx="23.9" ry="10.3" fill="#fbd2bd" opacity="0.8"/><ellipse cx="2077.9" cy="156.9" rx="30.2" ry="18.3" fill="#fddccb" opacity="0.9"/><ellipse cx="2081.8" cy="190.3" rx="38.2" ry="20.7" fill="#fcd6c2" opacity="0.85"/><ellipse cx="2049.3" cy="212.6" rx="15.9" ry="9.5" fill="#fde0d3" opacity="0.7"/><ellipse cx="2157.4" cy="168.8" rx="41.4" ry="8.8" fill="#fbcdb5" opacity="0.9" transform="rotate(-8 2157.4 168.8)"/><ellipse cx="2143.9" cy="145.8" rx="33.4" ry="4.8" fill="#f6f2ee" opacity="0.8"/><ellipse cx="2073.9" cy="224.5" rx="23.9" ry="11.9" fill="#fbeee8" opacity="0.8"/><ellipse cx="2173.3" cy="233.3" rx="46.1" ry="15.1" fill="#a6cde7" opacity="1.0"/></g>
<g filter="url(#b2)"><ellipse cx="2048.5" cy="65.7" rx="10.3" ry="8.8" fill="#a9cde6" opacity="1.0"/><ellipse cx="2031.8" cy="88" rx="11.9" ry="7.2" fill="#f09a74" opacity="1.0"/><ellipse cx="2049.3" cy="87.2" rx="10.3" ry="5.2" fill="#d6553a" opacity="1.0"/><ellipse cx="2087.4" cy="86" rx="46.1" ry="7.2" fill="#ea7d57" opacity="1.0" transform="rotate(3 2087.4 86)"/><ellipse cx="2121.6" cy="88.8" rx="30.2" ry="9.1" fill="#f2a07a" opacity="0.95" transform="rotate(5 2121.6 88.8)"/><ellipse cx="2117.6" cy="87.6" rx="21.5" ry="7.6" fill="#cc4631" opacity="1.0" transform="rotate(5 2117.6 87.6)"/><ellipse cx="2137.5" cy="95.9" rx="11.1" ry="5.6" fill="#ee9570" opacity="0.8"/><ellipse cx="2114.5" cy="54.9" rx="8.8" ry="3.6" fill="#74afd8" opacity="1.0"/><ellipse cx="2275.9" cy="57.7" rx="11.1" ry="9.5" fill="#f19a6e" opacity="1.0"/><ellipse cx="2255.2" cy="90.3" rx="15.9" ry="7.2" fill="#f3a07a" opacity="1.0"/><ellipse cx="2224.2" cy="107.8" rx="10.3" ry="7.2" fill="#f8bfa2" opacity="0.95"/><ellipse cx="2239.3" cy="156.1" rx="7.6" ry="13.5" fill="#c54230" opacity="1.0" transform="rotate(-28 2239.3 156.1)"/><ellipse cx="2225.8" cy="152.9" rx="15.1" ry="8" fill="#ea8460" opacity="0.9" transform="rotate(-10 2225.8 152.9)"/><ellipse cx="2194.8" cy="230.9" rx="17.5" ry="5.6" fill="#8fc1e1" opacity="0.7"/><ellipse cx="2121.6" cy="203" rx="22.3" ry="8" fill="#f6a683" opacity="0.95"/><ellipse cx="2178.1" cy="231.3" rx="19.9" ry="5.2" fill="#85badd" opacity="0.9"/></g>
<g filter="url(#b3)"><ellipse cx="2120" cy="87.6" rx="11.9" ry="3.6" fill="#cb4531" opacity="0.9" transform="rotate(5 2120 87.6)"/><ellipse cx="2240.9" cy="156.9" rx="3.6" ry="8.8" fill="#c23f2d" opacity="0.9" transform="rotate(-28 2240.9 156.9)"/><ellipse cx="2051.6" cy="86.8" rx="4.8" ry="2.4" fill="#d04e36" opacity="0.8"/></g>
<g><path d="M1920.4,47.8L2058,47.8L2058,56.9L2056.4,55.7L2043.7,56.1L2042.1,58.1L2036.5,58.9L2035.7,60.9L2033.7,62.1L2034.1,66.5L2039.3,68.1L2039.3,71.3L2038.1,74L2036.5,76L2034.1,76.8L2032.9,78.8L2031,79.2L2029.4,81.2L2022.6,82.4L2022.2,92.3L2019.8,92.3L2019.4,84.8L2008.3,85.2L2008.3,89.5L2010.7,90.3L2010.7,103.9L2008.7,104.3L2007.9,106.3L2005.5,107L2004.3,109.4L1997.5,110.6L1991.2,111L1991.2,119L1993.6,119.4L1993.2,126.5L1991.2,126.9L1990.8,129.3L1988.8,129.3L1988.4,127.3L1986.4,126.9L1985.6,123.8L1980,123L1979.3,118.2L1974.1,117.4L1973.7,113.4L1972.1,112.6L1970.5,110.2L1963.3,110.2L1962.5,111.8L1960.2,112.6L1959.4,115L1957,116.6L1956.2,119L1953.8,119.8L1953.4,126.1L1951.4,126.9L1950.6,129.7L1948.2,129.3L1947.8,125.3L1945.8,122.2L1944.3,118.2L1942.7,115L1940.7,111L1937.9,108.6L1935.1,106.6L1933.9,104.3L1928.3,104.3L1928.3,106.6L1925.6,106.6L1925.6,104.3L1922,104.3L1922,112.6L1920.4,112.6Z" fill="#404040"/><rect x="2042.4" y="78.7" width="2.9" height="2.5" fill="#404040"/><path d="M2039.7,84.4L2042.3,84.6L2042.3,86.8L2040.1,87.6L2038.3,89.7L2036.7,91.8L2034.5,92.6L2033.6,90.9L2035.6,88.8L2037.3,86.8L2038.8,85.2Z" fill="#404040"/><rect x="2010.7" y="115.7" width="3.2" height="2.9" fill="#404040"/><rect x="2016.6" y="129.7" width="3.2" height="2.9" fill="#404040"/><path d="M1976.7,135.9L1979.4,135.9L1981.6,139.5L1982.7,139.5L1982.4,133.1L1985,133.1L1985,138.1L1983.4,141L1980.7,141L1978.5,138.9Z" fill="#404040"/><path d="M1994,138.9L2000.7,138.5L2002.3,135.7L2005.5,134.9L2005.9,132.5L2008.4,132.5L2008.4,135.8L2005.9,136.6L2008,141L1996.8,141Z" fill="#404040"/><path d="M1980.8,141L1984,141.6L1985.6,144L1988.2,146.4L1991.2,148.8L1993.7,149.8L1994,152.3L1991.2,152.6L1989.4,150.7L1987,149.1L1984.7,146.7L1982.6,144.3Z" fill="#404040"/><path d="M1996.8,141L2008,141L2005.7,146.7L1996.8,147Z" fill="#404040"/><path d="M2033.7,144.3L2036.5,144.8L2037.3,147L2045.3,147.4L2048.5,150.4L2051,152.9L2051,155.5L2048.5,155.8L2046.9,153.1L2042.9,152.6L2042.3,155.8L2039.7,155.8L2038.9,152.3L2036.5,150.7L2034,149Z" fill="#404040"/><path d="M2002.3,172.8L2007.9,172.4L2008.3,170.4L2013.5,170L2014.3,167.3L2016.6,166.9L2017,164.5L2019,164.1L2019.4,161.7L2022.2,161.7L2022.6,164.1L2025,164.1L2025.4,161.7L2027.8,161.3L2028.2,158.9L2033.3,158.9L2033.7,164.1L2036.5,164.5L2036.9,166.9L2042.5,166.9L2042.5,161.7L2045.3,161.7L2045.7,166.9L2048.5,167.3L2048.9,170L2050.8,170.4L2051.2,175.2L2056.4,175.6L2058,175.8L2058,188.7L2056.8,188.7L2054,189.1L2053.2,195.1L2045.7,195.5L2045.3,197.9L2042.5,197.9L2042.1,195.1L2039.7,194.7L2038.9,191.9L2036.5,191.5L2036.1,189.1L2031,188.7L2030.6,187.1L2017,187.1L2016.6,189.5L2008.3,189.5L2007.9,192.3L2005.5,192.3L2005.1,187.1L2002.3,186.7Z" fill="#404040"/><rect x="2047.9" y="201.2" width="3" height="2.9" fill="#404040"/><path d="M2054,175.6L2056.9,175.8L2056.9,189.2L2054,189.5Z" fill="#404040"/><path d="M2088,195.6L2094.2,195.6L2094.2,198.6L2088,198.6Z" fill="#404040"/><rect x="2079.5" y="204" width="3.2" height="3" fill="#404040"/><path d="M2054,47.8L2097,47.8L2095.4,49.8L2093.8,52.2L2085.8,52.6L2085,53.8L2062,53.8L2061.2,57.7L2056.4,57.7L2056,55.3L2054,55.3Z" fill="#404040"/><path d="M2068.3,55.3L2071.7,56.1L2071.3,60.5L2068.5,61.3L2066.9,64.5L2065.3,64.9L2064.9,67.4L2062.4,67.4L2062.4,59.7L2064.3,58.9L2065.1,56.9Z" fill="#404040"/><path d="M2125.6,47.8L2194,47.8L2194,97.5L2189.2,95.9L2185.3,95.1L2184.9,92.7L2179.7,92.3L2178.9,87.2L2176.9,86.8L2176.5,70.1L2172.1,69.7L2171.7,67.3L2169.3,66.5L2168.9,64.5L2167,64.1L2166.2,61.3L2163.8,60.9L2163,58.1L2154.2,57.7L2153.4,55.7L2133.9,55.7L2133.5,58.1L2123.2,57.7L2122.4,55.3L2117.6,54.5L2116.8,52.2L2124,51.8L2125.6,49.8Z" fill="#404040"/><rect x="2187.9" y="98.6" width="3" height="2.9" fill="#404040"/><path d="M2190,47.8L2228.2,47.8L2226.6,49.8L2221.8,51L2220.2,54.5L2217,55.3L2216.6,58.1L2219.4,59.3L2220.2,61.3L2229.8,62.1L2231.4,64.1L2233.4,64.9L2234.5,68.1L2236.9,68.9L2237.7,69.7L2239.7,69.7L2240.1,64.9L2242.1,64.1L2242.5,53.4L2247.3,53L2248.1,55.3L2252.8,56.1L2253.6,58.1L2261.6,58.5L2262.4,62.1L2266.4,62.5L2266.8,64.5L2270.3,64.9L2270.3,66.9L2268,67.3L2267.6,69.3L2257.6,69.7L2257.2,72L2259.2,72.4L2259.2,78L2252.8,78.4L2250.5,80.8L2248.1,81.2L2247.7,83.6L2244.1,84L2242.5,85.6L2242.1,92.7L2240.1,93.5L2239.3,95.9L2236.9,96.3L2236.5,101.1L2234.1,101.1L2233.8,98.3L2216.3,98.7L2214.3,100.7L2213.9,115L2224.2,115.4L2225,117.8L2233.4,118.6L2233.8,126.9L2231,126.9L2230.6,124.5L2228.2,124.2L2227.8,121L2219.8,120.6L2219.4,118.6L2208.3,118.2L2207.9,115.8L2202.7,115L2202.3,107L2200.3,106.6L2199.9,104.7L2198,104.3L2197.6,102.3L2195.2,101.9L2194.8,99.9L2192.4,99.5L2192,97.5L2190,96.7Z" fill="#404040"/><rect x="2225.2" y="112.7" width="2.9" height="2.7" fill="#404040"/><path d="M2281.5,47.8L2294.2,47.8L2293.4,52.6L2291,53L2290.6,55.3L2285.5,55.3L2285.1,53L2283.1,52.6Z" fill="#404040"/><path d="M2251.3,47.8L2257,47.8L2256.5,51L2252.8,51.4Z" fill="#404040"/><path d="M2325.2,47.8L2330,47.8L2330,51L2326.8,50.7Z" fill="#404040"/><path d="M2239.3,141L2239.7,138.9L2242.1,138.5L2242.5,130.1L2244.9,129.7L2245.7,127.3L2247.7,126.9L2248.1,124.5L2250.5,124.5L2250.9,126.9L2264.8,127.3L2266.4,129.7L2268,131.7L2275.9,132.5L2277.5,134.9L2279.9,137.3L2282.3,138.9L2282.7,141Z" fill="#404040"/><path d="M2239.3,141L2238.9,145.8L2236.9,146.2L2236.5,150.5L2238.9,150.9L2239.3,153.3L2241.7,153.7L2242.5,156.9L2244.9,157.3L2245.3,162.5L2251.3,163.3L2251.6,165.7L2253.6,166.1L2254,181.2L2251.6,181.6L2251.3,192.7L2248.9,193.1L2248.5,200.7L2250.5,201.1L2250.5,203.8L2248.5,204.2L2248.1,218.2L2250.5,218.6L2250.9,215.4L2252.8,215L2253.2,212.6L2256,211.8L2256.4,207L2259.2,206.2L2260,201.5L2262.4,200.7L2263.2,198.3L2268,197.5L2268.8,195.1L2271.1,194.3L2271.9,191.9L2274.3,191.1L2275.9,188.7L2277.5,186.3L2279.9,185.5L2280.3,183.2L2282.3,182.4L2282.7,179.2L2285.1,178.4L2285.5,176L2293.4,175.2L2293.8,170.4L2296.2,169.6L2296.6,158.9L2299,158.1L2299.8,155.7L2301.8,155.3L2302.2,150.5L2299.8,149.8L2299,147L2287.8,146.6L2287.4,144.2L2282.7,143.8L2282.3,141Z" fill="#404040"/><rect x="2253.6" y="218.3" width="3.2" height="2.9" fill="#404040"/><path d="M2222.2,72.8L2233.4,72.8L2233.8,75.6L2239.3,76L2239.7,78.4L2244.9,78.8L2245.3,81L2239.3,81.3L2238.9,84L2234.1,84L2233.8,81.2L2231.4,80.8L2231,78.4L2229,78L2228.6,75.6L2222.6,75.2Z" fill="#fdeee6"/></g>
<rect x="2109" y="135.4" width="70.2" height="14.7" fill="none" stroke="#e8503a" stroke-width="1.5"/>
</g>
</svg></body></html>
